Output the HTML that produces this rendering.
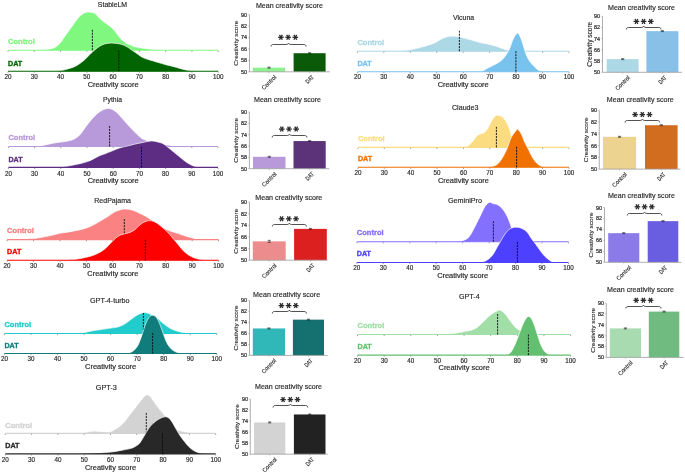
<!DOCTYPE html>
<html><head><meta charset="utf-8"><style>
html,body{margin:0;padding:0;background:#fff;}
svg{display:block;will-change:transform;}
text{font-family:"Liberation Sans", sans-serif;}
</style></head><body>
<svg width="685" height="475" viewBox="0 0 685 475">
<rect width="685" height="475" fill="#fff"/>
<text x="112.50" y="6.90" font-size="7.00" text-anchor="middle" font-weight="normal" fill="#262626" textLength="29.30" lengthAdjust="spacingAndGlyphs" stroke="#262626" stroke-width="0.15">StableLM</text>
<path d="M36.00,50.30 C36.00,50.30 34.50,50.40 36.00,50.30 C37.50,50.20 42.70,49.92 45.00,49.70 C47.30,49.48 48.18,49.37 49.80,49.00 C51.42,48.63 53.05,48.40 54.70,47.50 C56.35,46.60 58.05,45.40 59.70,43.60 C61.35,41.80 62.95,39.02 64.60,36.70 C66.25,34.38 67.95,32.02 69.60,29.70 C71.25,27.38 72.85,25.02 74.50,22.80 C76.15,20.58 77.85,18.05 79.50,16.40 C81.15,14.75 82.77,13.62 84.40,12.90 C86.03,12.18 87.53,11.98 89.30,12.10 C91.07,12.22 93.27,12.53 95.00,13.60 C96.73,14.67 98.12,17.05 99.70,18.50 C101.28,19.95 102.92,21.10 104.50,22.30 C106.08,23.50 107.78,24.58 109.20,25.70 C110.62,26.82 111.73,27.67 113.00,29.00 C114.27,30.33 115.53,32.12 116.80,33.70 C118.07,35.28 119.17,37.00 120.60,38.50 C122.03,40.00 123.82,41.65 125.40,42.70 C126.98,43.75 128.37,44.08 130.10,44.80 C131.83,45.52 133.87,46.47 135.80,47.00 C137.73,47.53 139.75,47.70 141.70,48.00 C143.65,48.30 145.55,48.52 147.50,48.80 C149.45,49.08 151.65,49.48 153.40,49.70 C155.15,49.92 156.07,50.00 158.00,50.10 C159.93,50.20 163.83,50.27 165.00,50.30 C166.17,50.33 165.00,50.30 165.00,50.30 Z" fill="#80f880"/>
<path d="M36.00,50.30 C36.00,50.30 34.50,50.40 36.00,50.30 C37.50,50.20 42.70,49.92 45.00,49.70 C47.30,49.48 48.18,49.37 49.80,49.00 C51.42,48.63 53.05,48.40 54.70,47.50 C56.35,46.60 58.05,45.40 59.70,43.60 C61.35,41.80 62.95,39.02 64.60,36.70 C66.25,34.38 67.95,32.02 69.60,29.70 C71.25,27.38 72.85,25.02 74.50,22.80 C76.15,20.58 77.85,18.05 79.50,16.40 C81.15,14.75 82.77,13.62 84.40,12.90 C86.03,12.18 87.53,11.98 89.30,12.10 C91.07,12.22 93.27,12.53 95.00,13.60 C96.73,14.67 98.12,17.05 99.70,18.50 C101.28,19.95 102.92,21.10 104.50,22.30 C106.08,23.50 107.78,24.58 109.20,25.70 C110.62,26.82 111.73,27.67 113.00,29.00 C114.27,30.33 115.53,32.12 116.80,33.70 C118.07,35.28 119.17,37.00 120.60,38.50 C122.03,40.00 123.82,41.65 125.40,42.70 C126.98,43.75 128.37,44.08 130.10,44.80 C131.83,45.52 133.87,46.47 135.80,47.00 C137.73,47.53 139.75,47.70 141.70,48.00 C143.65,48.30 145.55,48.52 147.50,48.80 C149.45,49.08 151.65,49.48 153.40,49.70 C155.15,49.92 156.07,50.00 158.00,50.10 C159.93,50.20 163.83,50.27 165.00,50.30 C166.17,50.33 165.00,50.30 165.00,50.30" fill="none" stroke="#fff" stroke-width="0.65"/>
<line x1="8.00" y1="50.30" x2="218.20" y2="50.30" stroke="#80f880" stroke-width="1.10"/>
<line x1="8.00" y1="50.70" x2="8.00" y2="51.90" stroke="#444" stroke-width="0.5"/>
<line x1="34.27" y1="50.70" x2="34.27" y2="51.90" stroke="#444" stroke-width="0.5"/>
<line x1="60.55" y1="50.70" x2="60.55" y2="51.90" stroke="#444" stroke-width="0.5"/>
<line x1="86.83" y1="50.70" x2="86.83" y2="51.90" stroke="#444" stroke-width="0.5"/>
<line x1="113.10" y1="50.70" x2="113.10" y2="51.90" stroke="#444" stroke-width="0.5"/>
<line x1="139.38" y1="50.70" x2="139.38" y2="51.90" stroke="#444" stroke-width="0.5"/>
<line x1="165.65" y1="50.70" x2="165.65" y2="51.90" stroke="#444" stroke-width="0.5"/>
<line x1="191.93" y1="50.70" x2="191.93" y2="51.90" stroke="#444" stroke-width="0.5"/>
<line x1="218.20" y1="50.70" x2="218.20" y2="51.90" stroke="#444" stroke-width="0.5"/>
<line x1="92.40" y1="50.30" x2="92.40" y2="29.80" stroke="#0a0a0a" stroke-width="0.9" stroke-dasharray="2.1,1.0"/>
<text x="8.00" y="44.20" font-size="6.90" text-anchor="start" font-weight="bold" fill="#80f880" textLength="26.80" lengthAdjust="spacingAndGlyphs" stroke="#80f880" stroke-width="0.30">Control</text>
<path d="M56.00,71.20 C56.00,71.20 55.00,71.32 56.00,71.20 C57.00,71.08 59.80,70.93 62.00,70.50 C64.20,70.07 66.78,69.40 69.20,68.60 C71.62,67.80 74.07,67.05 76.50,65.70 C78.93,64.35 81.37,62.58 83.80,60.50 C86.23,58.42 89.23,54.98 91.10,53.20 C92.97,51.42 93.57,50.97 95.00,49.80 C96.43,48.63 98.12,47.17 99.70,46.20 C101.28,45.23 102.92,44.50 104.50,44.00 C106.08,43.50 107.62,43.33 109.20,43.20 C110.78,43.07 112.42,43.12 114.00,43.20 C115.58,43.28 117.12,43.38 118.70,43.70 C120.28,44.02 121.92,44.47 123.50,45.10 C125.08,45.73 126.95,46.75 128.20,47.50 C129.45,48.25 129.73,48.72 131.00,49.60 C132.27,50.48 134.02,51.58 135.80,52.80 C137.58,54.02 139.75,55.82 141.70,56.90 C143.65,57.98 145.55,58.62 147.50,59.30 C149.45,59.98 151.45,60.42 153.40,61.00 C155.35,61.58 157.27,62.22 159.20,62.80 C161.13,63.38 163.05,63.98 165.00,64.50 C166.95,65.02 168.95,65.42 170.90,65.90 C172.85,66.38 174.75,66.85 176.70,67.40 C178.65,67.95 180.65,68.67 182.60,69.20 C184.55,69.73 186.47,70.27 188.40,70.60 C190.33,70.93 192.60,71.10 194.20,71.20 C195.80,71.30 197.37,71.20 198.00,71.20 C198.63,71.20 198.00,71.20 198.00,71.20 Z" fill="#006400"/>
<path d="M56.00,71.20 C56.00,71.20 55.00,71.32 56.00,71.20 C57.00,71.08 59.80,70.93 62.00,70.50 C64.20,70.07 66.78,69.40 69.20,68.60 C71.62,67.80 74.07,67.05 76.50,65.70 C78.93,64.35 81.37,62.58 83.80,60.50 C86.23,58.42 89.23,54.98 91.10,53.20 C92.97,51.42 93.57,50.97 95.00,49.80 C96.43,48.63 98.12,47.17 99.70,46.20 C101.28,45.23 102.92,44.50 104.50,44.00 C106.08,43.50 107.62,43.33 109.20,43.20 C110.78,43.07 112.42,43.12 114.00,43.20 C115.58,43.28 117.12,43.38 118.70,43.70 C120.28,44.02 121.92,44.47 123.50,45.10 C125.08,45.73 126.95,46.75 128.20,47.50 C129.45,48.25 129.73,48.72 131.00,49.60 C132.27,50.48 134.02,51.58 135.80,52.80 C137.58,54.02 139.75,55.82 141.70,56.90 C143.65,57.98 145.55,58.62 147.50,59.30 C149.45,59.98 151.45,60.42 153.40,61.00 C155.35,61.58 157.27,62.22 159.20,62.80 C161.13,63.38 163.05,63.98 165.00,64.50 C166.95,65.02 168.95,65.42 170.90,65.90 C172.85,66.38 174.75,66.85 176.70,67.40 C178.65,67.95 180.65,68.67 182.60,69.20 C184.55,69.73 186.47,70.27 188.40,70.60 C190.33,70.93 192.60,71.10 194.20,71.20 C195.80,71.30 197.37,71.20 198.00,71.20 C198.63,71.20 198.00,71.20 198.00,71.20" fill="none" stroke="#fff" stroke-width="0.65"/>
<line x1="8.00" y1="71.20" x2="218.20" y2="71.20" stroke="#006400" stroke-width="1.10"/>
<line x1="8.00" y1="71.60" x2="8.00" y2="72.80" stroke="#444" stroke-width="0.5"/>
<line x1="34.27" y1="71.60" x2="34.27" y2="72.80" stroke="#444" stroke-width="0.5"/>
<line x1="60.55" y1="71.60" x2="60.55" y2="72.80" stroke="#444" stroke-width="0.5"/>
<line x1="86.83" y1="71.60" x2="86.83" y2="72.80" stroke="#444" stroke-width="0.5"/>
<line x1="113.10" y1="71.60" x2="113.10" y2="72.80" stroke="#444" stroke-width="0.5"/>
<line x1="139.38" y1="71.60" x2="139.38" y2="72.80" stroke="#444" stroke-width="0.5"/>
<line x1="165.65" y1="71.60" x2="165.65" y2="72.80" stroke="#444" stroke-width="0.5"/>
<line x1="191.93" y1="71.60" x2="191.93" y2="72.80" stroke="#444" stroke-width="0.5"/>
<line x1="218.20" y1="71.60" x2="218.20" y2="72.80" stroke="#444" stroke-width="0.5"/>
<line x1="118.80" y1="71.20" x2="118.80" y2="50.70" stroke="#0a0a0a" stroke-width="0.9" stroke-dasharray="2.1,1.0"/>
<text x="8.00" y="65.60" font-size="6.90" text-anchor="start" font-weight="bold" fill="#006400" textLength="14.20" lengthAdjust="spacingAndGlyphs" stroke="#006400" stroke-width="0.30">DAT</text>
<text x="8.00" y="78.90" font-size="6.30" text-anchor="middle" font-weight="normal" fill="#262626" stroke="#262626" stroke-width="0.15">20</text>
<text x="34.27" y="78.90" font-size="6.30" text-anchor="middle" font-weight="normal" fill="#262626" stroke="#262626" stroke-width="0.15">30</text>
<text x="60.55" y="78.90" font-size="6.30" text-anchor="middle" font-weight="normal" fill="#262626" stroke="#262626" stroke-width="0.15">40</text>
<text x="86.83" y="78.90" font-size="6.30" text-anchor="middle" font-weight="normal" fill="#262626" stroke="#262626" stroke-width="0.15">50</text>
<text x="113.10" y="78.90" font-size="6.30" text-anchor="middle" font-weight="normal" fill="#262626" stroke="#262626" stroke-width="0.15">60</text>
<text x="139.38" y="78.90" font-size="6.30" text-anchor="middle" font-weight="normal" fill="#262626" stroke="#262626" stroke-width="0.15">70</text>
<text x="165.65" y="78.90" font-size="6.30" text-anchor="middle" font-weight="normal" fill="#262626" stroke="#262626" stroke-width="0.15">80</text>
<text x="191.93" y="78.90" font-size="6.30" text-anchor="middle" font-weight="normal" fill="#262626" stroke="#262626" stroke-width="0.15">90</text>
<text x="218.20" y="78.90" font-size="6.30" text-anchor="middle" font-weight="normal" fill="#262626" stroke="#262626" stroke-width="0.15">100</text>
<text x="113.10" y="86.90" font-size="6.60" text-anchor="middle" font-weight="normal" fill="#262626" textLength="50.80" lengthAdjust="spacingAndGlyphs" stroke="#262626" stroke-width="0.15">Creativity score</text>
<text x="112.50" y="102.00" font-size="7.00" text-anchor="middle" font-weight="normal" fill="#262626" textLength="18.90" lengthAdjust="spacingAndGlyphs" stroke="#262626" stroke-width="0.15">Pythia</text>
<path d="M34.00,146.50 C34.00,146.50 33.20,146.53 34.00,146.50 C34.80,146.47 36.97,146.55 38.80,146.30 C40.63,146.05 42.78,145.48 45.00,145.00 C47.22,144.52 49.77,143.85 52.10,143.40 C54.43,142.95 56.55,142.67 59.00,142.30 C61.45,141.93 64.80,141.53 66.80,141.20 C68.80,140.87 69.77,140.67 71.00,140.30 C72.23,139.93 73.12,139.55 74.20,139.00 C75.28,138.45 76.52,137.73 77.50,137.00 C78.48,136.27 79.18,135.63 80.10,134.60 C81.02,133.57 82.02,132.15 83.00,130.80 C83.98,129.45 85.00,127.87 86.00,126.50 C87.00,125.13 88.02,123.83 89.00,122.60 C89.98,121.37 90.93,120.20 91.90,119.10 C92.87,118.00 93.83,116.97 94.80,116.00 C95.77,115.03 96.73,114.10 97.70,113.30 C98.67,112.50 99.62,111.82 100.60,111.20 C101.58,110.58 102.62,110.02 103.60,109.60 C104.58,109.18 105.52,108.88 106.50,108.70 C107.48,108.52 108.42,108.32 109.50,108.50 C110.58,108.68 111.78,109.13 113.00,109.80 C114.22,110.47 115.55,111.40 116.80,112.50 C118.05,113.60 119.28,115.05 120.50,116.40 C121.72,117.75 122.88,119.22 124.10,120.60 C125.32,121.98 126.57,123.35 127.80,124.70 C129.03,126.05 130.27,127.38 131.50,128.70 C132.73,130.02 133.97,131.37 135.20,132.60 C136.43,133.83 137.77,135.12 138.90,136.10 C140.03,137.08 141.02,137.88 142.00,138.50 C142.98,139.12 143.80,139.33 144.80,139.80 C145.80,140.27 146.80,140.83 148.00,141.30 C149.20,141.77 150.50,142.23 152.00,142.60 C153.50,142.97 155.02,143.23 157.00,143.50 C158.98,143.77 161.52,143.83 163.90,144.20 C166.28,144.57 168.85,145.33 171.30,145.70 C173.75,146.07 176.48,146.27 178.60,146.40 C180.72,146.53 183.10,146.48 184.00,146.50 C184.90,146.52 184.00,146.50 184.00,146.50 Z" fill="#b89adb"/>
<path d="M34.00,146.50 C34.00,146.50 33.20,146.53 34.00,146.50 C34.80,146.47 36.97,146.55 38.80,146.30 C40.63,146.05 42.78,145.48 45.00,145.00 C47.22,144.52 49.77,143.85 52.10,143.40 C54.43,142.95 56.55,142.67 59.00,142.30 C61.45,141.93 64.80,141.53 66.80,141.20 C68.80,140.87 69.77,140.67 71.00,140.30 C72.23,139.93 73.12,139.55 74.20,139.00 C75.28,138.45 76.52,137.73 77.50,137.00 C78.48,136.27 79.18,135.63 80.10,134.60 C81.02,133.57 82.02,132.15 83.00,130.80 C83.98,129.45 85.00,127.87 86.00,126.50 C87.00,125.13 88.02,123.83 89.00,122.60 C89.98,121.37 90.93,120.20 91.90,119.10 C92.87,118.00 93.83,116.97 94.80,116.00 C95.77,115.03 96.73,114.10 97.70,113.30 C98.67,112.50 99.62,111.82 100.60,111.20 C101.58,110.58 102.62,110.02 103.60,109.60 C104.58,109.18 105.52,108.88 106.50,108.70 C107.48,108.52 108.42,108.32 109.50,108.50 C110.58,108.68 111.78,109.13 113.00,109.80 C114.22,110.47 115.55,111.40 116.80,112.50 C118.05,113.60 119.28,115.05 120.50,116.40 C121.72,117.75 122.88,119.22 124.10,120.60 C125.32,121.98 126.57,123.35 127.80,124.70 C129.03,126.05 130.27,127.38 131.50,128.70 C132.73,130.02 133.97,131.37 135.20,132.60 C136.43,133.83 137.77,135.12 138.90,136.10 C140.03,137.08 141.02,137.88 142.00,138.50 C142.98,139.12 143.80,139.33 144.80,139.80 C145.80,140.27 146.80,140.83 148.00,141.30 C149.20,141.77 150.50,142.23 152.00,142.60 C153.50,142.97 155.02,143.23 157.00,143.50 C158.98,143.77 161.52,143.83 163.90,144.20 C166.28,144.57 168.85,145.33 171.30,145.70 C173.75,146.07 176.48,146.27 178.60,146.40 C180.72,146.53 183.10,146.48 184.00,146.50 C184.90,146.52 184.00,146.50 184.00,146.50" fill="none" stroke="#fff" stroke-width="0.65"/>
<line x1="8.40" y1="146.50" x2="218.00" y2="146.50" stroke="#b89adb" stroke-width="1.10"/>
<line x1="8.40" y1="146.90" x2="8.40" y2="148.10" stroke="#444" stroke-width="0.5"/>
<line x1="34.60" y1="146.90" x2="34.60" y2="148.10" stroke="#444" stroke-width="0.5"/>
<line x1="60.80" y1="146.90" x2="60.80" y2="148.10" stroke="#444" stroke-width="0.5"/>
<line x1="87.00" y1="146.90" x2="87.00" y2="148.10" stroke="#444" stroke-width="0.5"/>
<line x1="113.20" y1="146.90" x2="113.20" y2="148.10" stroke="#444" stroke-width="0.5"/>
<line x1="139.40" y1="146.90" x2="139.40" y2="148.10" stroke="#444" stroke-width="0.5"/>
<line x1="165.60" y1="146.90" x2="165.60" y2="148.10" stroke="#444" stroke-width="0.5"/>
<line x1="191.80" y1="146.90" x2="191.80" y2="148.10" stroke="#444" stroke-width="0.5"/>
<line x1="218.00" y1="146.90" x2="218.00" y2="148.10" stroke="#444" stroke-width="0.5"/>
<line x1="109.60" y1="146.50" x2="109.60" y2="126.00" stroke="#0a0a0a" stroke-width="0.9" stroke-dasharray="2.1,1.0"/>
<text x="8.40" y="140.40" font-size="6.90" text-anchor="start" font-weight="bold" fill="#b89adb" textLength="26.80" lengthAdjust="spacingAndGlyphs" stroke="#b89adb" stroke-width="0.30">Control</text>
<path d="M55.00,167.40 C55.00,167.40 54.25,167.40 55.00,167.40 C55.75,167.40 57.72,167.55 59.50,167.40 C61.28,167.25 63.75,166.82 65.70,166.50 C67.65,166.18 69.48,165.83 71.20,165.50 C72.92,165.17 74.28,164.87 76.00,164.50 C77.72,164.13 79.35,163.87 81.50,163.30 C83.65,162.73 87.07,161.75 88.90,161.10 C90.73,160.45 91.27,160.02 92.50,159.40 C93.73,158.78 95.05,158.05 96.30,157.40 C97.55,156.75 98.55,156.10 100.00,155.50 C101.45,154.90 102.93,154.58 105.00,153.80 C107.07,153.02 109.95,151.78 112.40,150.80 C114.85,149.82 117.25,148.68 119.70,147.90 C122.15,147.12 124.63,146.72 127.10,146.10 C129.57,145.48 132.05,144.77 134.50,144.20 C136.95,143.63 139.60,143.15 141.80,142.70 C144.00,142.25 145.98,141.80 147.70,141.50 C149.42,141.20 150.38,140.82 152.10,140.90 C153.82,140.98 156.03,141.45 158.00,142.00 C159.97,142.55 161.68,142.85 163.90,144.20 C166.12,145.55 168.85,148.13 171.30,150.10 C173.75,152.07 176.15,154.03 178.60,156.00 C181.05,157.97 183.53,160.23 186.00,161.90 C188.47,163.57 191.18,165.08 193.40,166.00 C195.62,166.92 197.70,167.17 199.30,167.40 C200.90,167.63 202.38,167.40 203.00,167.40 C203.62,167.40 203.00,167.40 203.00,167.40 Z" fill="#5c2d82"/>
<path d="M55.00,167.40 C55.00,167.40 54.25,167.40 55.00,167.40 C55.75,167.40 57.72,167.55 59.50,167.40 C61.28,167.25 63.75,166.82 65.70,166.50 C67.65,166.18 69.48,165.83 71.20,165.50 C72.92,165.17 74.28,164.87 76.00,164.50 C77.72,164.13 79.35,163.87 81.50,163.30 C83.65,162.73 87.07,161.75 88.90,161.10 C90.73,160.45 91.27,160.02 92.50,159.40 C93.73,158.78 95.05,158.05 96.30,157.40 C97.55,156.75 98.55,156.10 100.00,155.50 C101.45,154.90 102.93,154.58 105.00,153.80 C107.07,153.02 109.95,151.78 112.40,150.80 C114.85,149.82 117.25,148.68 119.70,147.90 C122.15,147.12 124.63,146.72 127.10,146.10 C129.57,145.48 132.05,144.77 134.50,144.20 C136.95,143.63 139.60,143.15 141.80,142.70 C144.00,142.25 145.98,141.80 147.70,141.50 C149.42,141.20 150.38,140.82 152.10,140.90 C153.82,140.98 156.03,141.45 158.00,142.00 C159.97,142.55 161.68,142.85 163.90,144.20 C166.12,145.55 168.85,148.13 171.30,150.10 C173.75,152.07 176.15,154.03 178.60,156.00 C181.05,157.97 183.53,160.23 186.00,161.90 C188.47,163.57 191.18,165.08 193.40,166.00 C195.62,166.92 197.70,167.17 199.30,167.40 C200.90,167.63 202.38,167.40 203.00,167.40 C203.62,167.40 203.00,167.40 203.00,167.40" fill="none" stroke="#fff" stroke-width="0.65"/>
<line x1="8.40" y1="167.40" x2="218.00" y2="167.40" stroke="#5c2d82" stroke-width="1.10"/>
<line x1="8.40" y1="167.80" x2="8.40" y2="169.00" stroke="#444" stroke-width="0.5"/>
<line x1="34.60" y1="167.80" x2="34.60" y2="169.00" stroke="#444" stroke-width="0.5"/>
<line x1="60.80" y1="167.80" x2="60.80" y2="169.00" stroke="#444" stroke-width="0.5"/>
<line x1="87.00" y1="167.80" x2="87.00" y2="169.00" stroke="#444" stroke-width="0.5"/>
<line x1="113.20" y1="167.80" x2="113.20" y2="169.00" stroke="#444" stroke-width="0.5"/>
<line x1="139.40" y1="167.80" x2="139.40" y2="169.00" stroke="#444" stroke-width="0.5"/>
<line x1="165.60" y1="167.80" x2="165.60" y2="169.00" stroke="#444" stroke-width="0.5"/>
<line x1="191.80" y1="167.80" x2="191.80" y2="169.00" stroke="#444" stroke-width="0.5"/>
<line x1="218.00" y1="167.80" x2="218.00" y2="169.00" stroke="#444" stroke-width="0.5"/>
<line x1="141.50" y1="167.40" x2="141.50" y2="146.90" stroke="#0a0a0a" stroke-width="0.9" stroke-dasharray="2.1,1.0"/>
<text x="8.40" y="161.90" font-size="6.90" text-anchor="start" font-weight="bold" fill="#5c2d82" textLength="14.20" lengthAdjust="spacingAndGlyphs" stroke="#5c2d82" stroke-width="0.30">DAT</text>
<text x="8.40" y="175.50" font-size="6.30" text-anchor="middle" font-weight="normal" fill="#262626" stroke="#262626" stroke-width="0.15">20</text>
<text x="34.60" y="175.50" font-size="6.30" text-anchor="middle" font-weight="normal" fill="#262626" stroke="#262626" stroke-width="0.15">30</text>
<text x="60.80" y="175.50" font-size="6.30" text-anchor="middle" font-weight="normal" fill="#262626" stroke="#262626" stroke-width="0.15">40</text>
<text x="87.00" y="175.50" font-size="6.30" text-anchor="middle" font-weight="normal" fill="#262626" stroke="#262626" stroke-width="0.15">50</text>
<text x="113.20" y="175.50" font-size="6.30" text-anchor="middle" font-weight="normal" fill="#262626" stroke="#262626" stroke-width="0.15">60</text>
<text x="139.40" y="175.50" font-size="6.30" text-anchor="middle" font-weight="normal" fill="#262626" stroke="#262626" stroke-width="0.15">70</text>
<text x="165.60" y="175.50" font-size="6.30" text-anchor="middle" font-weight="normal" fill="#262626" stroke="#262626" stroke-width="0.15">80</text>
<text x="191.80" y="175.50" font-size="6.30" text-anchor="middle" font-weight="normal" fill="#262626" stroke="#262626" stroke-width="0.15">90</text>
<text x="218.00" y="175.50" font-size="6.30" text-anchor="middle" font-weight="normal" fill="#262626" stroke="#262626" stroke-width="0.15">100</text>
<text x="113.20" y="183.00" font-size="6.60" text-anchor="middle" font-weight="normal" fill="#262626" textLength="51.00" lengthAdjust="spacingAndGlyphs" stroke="#262626" stroke-width="0.15">Creativity score</text>
<text x="112.60" y="202.80" font-size="7.00" text-anchor="middle" font-weight="normal" fill="#262626" textLength="36.70" lengthAdjust="spacingAndGlyphs" stroke="#262626" stroke-width="0.15">RedPajama</text>
<path d="M7.10,239.60 C7.10,239.60 4.95,239.65 7.10,239.60 C9.25,239.55 15.57,239.47 20.00,239.30 C24.43,239.13 29.18,239.10 33.70,238.60 C38.22,238.10 43.72,236.93 47.10,236.30 C50.48,235.67 51.85,235.32 54.00,234.80 C56.15,234.28 58.00,233.60 60.00,233.20 C62.00,232.80 64.00,232.70 66.00,232.40 C68.00,232.10 70.00,231.77 72.00,231.40 C74.00,231.03 76.00,230.63 78.00,230.20 C80.00,229.77 82.00,229.40 84.00,228.80 C86.00,228.20 88.00,227.47 90.00,226.60 C92.00,225.73 94.00,224.70 96.00,223.60 C98.00,222.50 100.00,221.20 102.00,220.00 C104.00,218.80 106.00,217.68 108.00,216.40 C110.00,215.12 112.17,213.32 114.00,212.30 C115.83,211.28 117.20,210.87 119.00,210.30 C120.80,209.73 122.38,208.87 124.80,208.90 C127.22,208.93 130.97,209.75 133.50,210.50 C136.03,211.25 137.92,212.42 140.00,213.40 C142.08,214.38 144.00,215.23 146.00,216.40 C148.00,217.57 150.00,219.05 152.00,220.40 C154.00,221.75 156.00,223.18 158.00,224.50 C160.00,225.82 162.00,227.23 164.00,228.30 C166.00,229.37 168.30,230.25 170.00,230.90 C171.70,231.55 172.80,231.75 174.20,232.20 C175.60,232.65 177.00,233.12 178.40,233.60 C179.80,234.08 181.20,234.63 182.60,235.10 C184.00,235.57 185.38,235.98 186.80,236.40 C188.22,236.82 189.90,237.25 191.10,237.60 C192.30,237.95 192.85,238.22 194.00,238.50 C195.15,238.78 196.50,239.12 198.00,239.30 C199.50,239.48 201.50,239.55 203.00,239.60 C204.50,239.65 206.33,239.60 207.00,239.60 C207.67,239.60 207.00,239.60 207.00,239.60 Z" fill="#fb8282"/>
<path d="M7.10,239.60 C7.10,239.60 4.95,239.65 7.10,239.60 C9.25,239.55 15.57,239.47 20.00,239.30 C24.43,239.13 29.18,239.10 33.70,238.60 C38.22,238.10 43.72,236.93 47.10,236.30 C50.48,235.67 51.85,235.32 54.00,234.80 C56.15,234.28 58.00,233.60 60.00,233.20 C62.00,232.80 64.00,232.70 66.00,232.40 C68.00,232.10 70.00,231.77 72.00,231.40 C74.00,231.03 76.00,230.63 78.00,230.20 C80.00,229.77 82.00,229.40 84.00,228.80 C86.00,228.20 88.00,227.47 90.00,226.60 C92.00,225.73 94.00,224.70 96.00,223.60 C98.00,222.50 100.00,221.20 102.00,220.00 C104.00,218.80 106.00,217.68 108.00,216.40 C110.00,215.12 112.17,213.32 114.00,212.30 C115.83,211.28 117.20,210.87 119.00,210.30 C120.80,209.73 122.38,208.87 124.80,208.90 C127.22,208.93 130.97,209.75 133.50,210.50 C136.03,211.25 137.92,212.42 140.00,213.40 C142.08,214.38 144.00,215.23 146.00,216.40 C148.00,217.57 150.00,219.05 152.00,220.40 C154.00,221.75 156.00,223.18 158.00,224.50 C160.00,225.82 162.00,227.23 164.00,228.30 C166.00,229.37 168.30,230.25 170.00,230.90 C171.70,231.55 172.80,231.75 174.20,232.20 C175.60,232.65 177.00,233.12 178.40,233.60 C179.80,234.08 181.20,234.63 182.60,235.10 C184.00,235.57 185.38,235.98 186.80,236.40 C188.22,236.82 189.90,237.25 191.10,237.60 C192.30,237.95 192.85,238.22 194.00,238.50 C195.15,238.78 196.50,239.12 198.00,239.30 C199.50,239.48 201.50,239.55 203.00,239.60 C204.50,239.65 206.33,239.60 207.00,239.60 C207.67,239.60 207.00,239.60 207.00,239.60" fill="none" stroke="#fff" stroke-width="0.65"/>
<line x1="7.10" y1="239.60" x2="218.60" y2="239.60" stroke="#fb8282" stroke-width="1.10"/>
<line x1="7.10" y1="240.00" x2="7.10" y2="241.20" stroke="#444" stroke-width="0.5"/>
<line x1="33.54" y1="240.00" x2="33.54" y2="241.20" stroke="#444" stroke-width="0.5"/>
<line x1="59.98" y1="240.00" x2="59.98" y2="241.20" stroke="#444" stroke-width="0.5"/>
<line x1="86.41" y1="240.00" x2="86.41" y2="241.20" stroke="#444" stroke-width="0.5"/>
<line x1="112.85" y1="240.00" x2="112.85" y2="241.20" stroke="#444" stroke-width="0.5"/>
<line x1="139.29" y1="240.00" x2="139.29" y2="241.20" stroke="#444" stroke-width="0.5"/>
<line x1="165.72" y1="240.00" x2="165.72" y2="241.20" stroke="#444" stroke-width="0.5"/>
<line x1="192.16" y1="240.00" x2="192.16" y2="241.20" stroke="#444" stroke-width="0.5"/>
<line x1="218.60" y1="240.00" x2="218.60" y2="241.20" stroke="#444" stroke-width="0.5"/>
<line x1="124.30" y1="239.60" x2="124.30" y2="219.10" stroke="#0a0a0a" stroke-width="0.9" stroke-dasharray="2.1,1.0"/>
<text x="7.10" y="233.30" font-size="6.90" text-anchor="start" font-weight="bold" fill="#fb8282" textLength="26.80" lengthAdjust="spacingAndGlyphs" stroke="#fb8282" stroke-width="0.30">Control</text>
<path d="M62.00,260.30 C62.00,260.30 61.33,260.33 62.00,260.30 C62.67,260.27 64.33,260.18 66.00,260.10 C67.67,260.02 70.00,259.98 72.00,259.80 C74.00,259.62 76.00,259.33 78.00,259.00 C80.00,258.67 81.80,258.30 84.00,257.80 C86.20,257.30 89.20,256.60 91.20,256.00 C93.20,255.40 94.40,254.90 96.00,254.20 C97.60,253.50 99.20,252.80 100.80,251.80 C102.40,250.80 104.00,249.60 105.60,248.20 C107.20,246.80 108.80,245.00 110.40,243.40 C112.00,241.80 113.77,239.87 115.20,238.60 C116.63,237.33 117.70,236.53 119.00,235.80 C120.30,235.07 121.17,234.77 123.00,234.20 C124.83,233.63 128.00,233.18 130.00,232.40 C132.00,231.62 133.33,230.77 135.00,229.50 C136.67,228.23 138.37,226.08 140.00,224.80 C141.63,223.52 143.20,222.50 144.80,221.80 C146.40,221.10 148.00,220.60 149.60,220.60 C151.20,220.60 152.80,221.10 154.40,221.80 C156.00,222.50 157.52,223.55 159.20,224.80 C160.88,226.05 162.78,227.73 164.50,229.30 C166.22,230.87 168.08,232.67 169.50,234.20 C170.92,235.73 172.02,237.33 173.00,238.50 C173.98,239.67 174.30,239.88 175.40,241.20 C176.50,242.52 178.10,244.63 179.60,246.40 C181.10,248.17 182.80,250.30 184.40,251.80 C186.00,253.30 187.60,254.40 189.20,255.40 C190.80,256.40 192.40,257.15 194.00,257.80 C195.60,258.45 197.30,258.92 198.80,259.30 C200.30,259.68 201.63,259.93 203.00,260.10 C204.37,260.27 206.33,260.27 207.00,260.30 C207.67,260.33 207.00,260.30 207.00,260.30 Z" fill="#ff0000"/>
<path d="M62.00,260.30 C62.00,260.30 61.33,260.33 62.00,260.30 C62.67,260.27 64.33,260.18 66.00,260.10 C67.67,260.02 70.00,259.98 72.00,259.80 C74.00,259.62 76.00,259.33 78.00,259.00 C80.00,258.67 81.80,258.30 84.00,257.80 C86.20,257.30 89.20,256.60 91.20,256.00 C93.20,255.40 94.40,254.90 96.00,254.20 C97.60,253.50 99.20,252.80 100.80,251.80 C102.40,250.80 104.00,249.60 105.60,248.20 C107.20,246.80 108.80,245.00 110.40,243.40 C112.00,241.80 113.77,239.87 115.20,238.60 C116.63,237.33 117.70,236.53 119.00,235.80 C120.30,235.07 121.17,234.77 123.00,234.20 C124.83,233.63 128.00,233.18 130.00,232.40 C132.00,231.62 133.33,230.77 135.00,229.50 C136.67,228.23 138.37,226.08 140.00,224.80 C141.63,223.52 143.20,222.50 144.80,221.80 C146.40,221.10 148.00,220.60 149.60,220.60 C151.20,220.60 152.80,221.10 154.40,221.80 C156.00,222.50 157.52,223.55 159.20,224.80 C160.88,226.05 162.78,227.73 164.50,229.30 C166.22,230.87 168.08,232.67 169.50,234.20 C170.92,235.73 172.02,237.33 173.00,238.50 C173.98,239.67 174.30,239.88 175.40,241.20 C176.50,242.52 178.10,244.63 179.60,246.40 C181.10,248.17 182.80,250.30 184.40,251.80 C186.00,253.30 187.60,254.40 189.20,255.40 C190.80,256.40 192.40,257.15 194.00,257.80 C195.60,258.45 197.30,258.92 198.80,259.30 C200.30,259.68 201.63,259.93 203.00,260.10 C204.37,260.27 206.33,260.27 207.00,260.30 C207.67,260.33 207.00,260.30 207.00,260.30" fill="none" stroke="#fff" stroke-width="0.65"/>
<line x1="7.10" y1="260.30" x2="218.60" y2="260.30" stroke="#ff0000" stroke-width="1.10"/>
<line x1="7.10" y1="260.70" x2="7.10" y2="261.90" stroke="#444" stroke-width="0.5"/>
<line x1="33.54" y1="260.70" x2="33.54" y2="261.90" stroke="#444" stroke-width="0.5"/>
<line x1="59.98" y1="260.70" x2="59.98" y2="261.90" stroke="#444" stroke-width="0.5"/>
<line x1="86.41" y1="260.70" x2="86.41" y2="261.90" stroke="#444" stroke-width="0.5"/>
<line x1="112.85" y1="260.70" x2="112.85" y2="261.90" stroke="#444" stroke-width="0.5"/>
<line x1="139.29" y1="260.70" x2="139.29" y2="261.90" stroke="#444" stroke-width="0.5"/>
<line x1="165.72" y1="260.70" x2="165.72" y2="261.90" stroke="#444" stroke-width="0.5"/>
<line x1="192.16" y1="260.70" x2="192.16" y2="261.90" stroke="#444" stroke-width="0.5"/>
<line x1="218.60" y1="260.70" x2="218.60" y2="261.90" stroke="#444" stroke-width="0.5"/>
<line x1="145.30" y1="260.30" x2="145.30" y2="239.80" stroke="#0a0a0a" stroke-width="0.9" stroke-dasharray="2.1,1.0"/>
<text x="7.10" y="254.10" font-size="6.90" text-anchor="start" font-weight="bold" fill="#ff0000" textLength="14.20" lengthAdjust="spacingAndGlyphs" stroke="#ff0000" stroke-width="0.30">DAT</text>
<text x="7.10" y="267.90" font-size="6.30" text-anchor="middle" font-weight="normal" fill="#262626" stroke="#262626" stroke-width="0.15">20</text>
<text x="33.54" y="267.90" font-size="6.30" text-anchor="middle" font-weight="normal" fill="#262626" stroke="#262626" stroke-width="0.15">30</text>
<text x="59.98" y="267.90" font-size="6.30" text-anchor="middle" font-weight="normal" fill="#262626" stroke="#262626" stroke-width="0.15">40</text>
<text x="86.41" y="267.90" font-size="6.30" text-anchor="middle" font-weight="normal" fill="#262626" stroke="#262626" stroke-width="0.15">50</text>
<text x="112.85" y="267.90" font-size="6.30" text-anchor="middle" font-weight="normal" fill="#262626" stroke="#262626" stroke-width="0.15">60</text>
<text x="139.29" y="267.90" font-size="6.30" text-anchor="middle" font-weight="normal" fill="#262626" stroke="#262626" stroke-width="0.15">70</text>
<text x="165.72" y="267.90" font-size="6.30" text-anchor="middle" font-weight="normal" fill="#262626" stroke="#262626" stroke-width="0.15">80</text>
<text x="192.16" y="267.90" font-size="6.30" text-anchor="middle" font-weight="normal" fill="#262626" stroke="#262626" stroke-width="0.15">90</text>
<text x="218.60" y="267.90" font-size="6.30" text-anchor="middle" font-weight="normal" fill="#262626" stroke="#262626" stroke-width="0.15">100</text>
<text x="112.85" y="276.30" font-size="6.60" text-anchor="middle" font-weight="normal" fill="#262626" textLength="51.00" lengthAdjust="spacingAndGlyphs" stroke="#262626" stroke-width="0.15">Creativity score</text>
<text x="109.80" y="303.00" font-size="7.00" text-anchor="middle" font-weight="normal" fill="#262626" textLength="39.60" lengthAdjust="spacingAndGlyphs" stroke="#262626" stroke-width="0.15">GPT-4-turbo</text>
<path d="M78.00,333.50 C78.00,333.50 77.28,333.55 78.00,333.50 C78.72,333.45 80.23,333.58 82.30,333.20 C84.37,332.82 87.33,331.80 90.40,331.20 C93.47,330.60 97.28,330.12 100.70,329.60 C104.12,329.08 108.35,328.48 110.90,328.10 C113.45,327.72 114.57,327.58 116.00,327.30 C117.43,327.02 118.13,326.90 119.50,326.40 C120.87,325.90 122.57,325.23 124.20,324.30 C125.83,323.37 127.63,322.00 129.30,320.80 C130.97,319.60 132.63,318.18 134.20,317.10 C135.77,316.02 137.17,315.03 138.70,314.30 C140.23,313.57 142.03,312.93 143.40,312.70 C144.77,312.47 145.73,312.63 146.90,312.90 C148.07,313.17 149.10,313.70 150.40,314.30 C151.70,314.90 153.35,315.72 154.70,316.50 C156.05,317.28 157.28,318.00 158.50,319.00 C159.72,320.00 160.63,321.33 162.00,322.50 C163.37,323.67 165.13,324.92 166.70,326.00 C168.27,327.08 169.83,328.22 171.40,329.00 C172.97,329.78 174.55,330.18 176.10,330.70 C177.65,331.22 179.15,331.72 180.70,332.10 C182.25,332.48 183.85,332.78 185.40,333.00 C186.95,333.22 188.40,333.30 190.00,333.40 C191.60,333.50 194.17,333.58 195.00,333.60 C195.83,333.62 195.00,333.52 195.00,333.50 Z" fill="#22cccc"/>
<path d="M78.00,333.50 C78.00,333.50 77.28,333.55 78.00,333.50 C78.72,333.45 80.23,333.58 82.30,333.20 C84.37,332.82 87.33,331.80 90.40,331.20 C93.47,330.60 97.28,330.12 100.70,329.60 C104.12,329.08 108.35,328.48 110.90,328.10 C113.45,327.72 114.57,327.58 116.00,327.30 C117.43,327.02 118.13,326.90 119.50,326.40 C120.87,325.90 122.57,325.23 124.20,324.30 C125.83,323.37 127.63,322.00 129.30,320.80 C130.97,319.60 132.63,318.18 134.20,317.10 C135.77,316.02 137.17,315.03 138.70,314.30 C140.23,313.57 142.03,312.93 143.40,312.70 C144.77,312.47 145.73,312.63 146.90,312.90 C148.07,313.17 149.10,313.70 150.40,314.30 C151.70,314.90 153.35,315.72 154.70,316.50 C156.05,317.28 157.28,318.00 158.50,319.00 C159.72,320.00 160.63,321.33 162.00,322.50 C163.37,323.67 165.13,324.92 166.70,326.00 C168.27,327.08 169.83,328.22 171.40,329.00 C172.97,329.78 174.55,330.18 176.10,330.70 C177.65,331.22 179.15,331.72 180.70,332.10 C182.25,332.48 183.85,332.78 185.40,333.00 C186.95,333.22 188.40,333.30 190.00,333.40 C191.60,333.50 194.17,333.58 195.00,333.60 C195.83,333.62 195.00,333.52 195.00,333.50" fill="none" stroke="#fff" stroke-width="0.65"/>
<line x1="4.40" y1="333.50" x2="216.80" y2="333.50" stroke="#22cccc" stroke-width="1.10"/>
<line x1="4.40" y1="333.90" x2="4.40" y2="335.10" stroke="#444" stroke-width="0.5"/>
<line x1="30.95" y1="333.90" x2="30.95" y2="335.10" stroke="#444" stroke-width="0.5"/>
<line x1="57.50" y1="333.90" x2="57.50" y2="335.10" stroke="#444" stroke-width="0.5"/>
<line x1="84.05" y1="333.90" x2="84.05" y2="335.10" stroke="#444" stroke-width="0.5"/>
<line x1="110.60" y1="333.90" x2="110.60" y2="335.10" stroke="#444" stroke-width="0.5"/>
<line x1="137.15" y1="333.90" x2="137.15" y2="335.10" stroke="#444" stroke-width="0.5"/>
<line x1="163.70" y1="333.90" x2="163.70" y2="335.10" stroke="#444" stroke-width="0.5"/>
<line x1="190.25" y1="333.90" x2="190.25" y2="335.10" stroke="#444" stroke-width="0.5"/>
<line x1="216.80" y1="333.90" x2="216.80" y2="335.10" stroke="#444" stroke-width="0.5"/>
<line x1="143.40" y1="333.50" x2="143.40" y2="313.00" stroke="#0a0a0a" stroke-width="0.9" stroke-dasharray="2.1,1.0"/>
<text x="4.40" y="327.20" font-size="6.90" text-anchor="start" font-weight="bold" fill="#22cccc" textLength="26.80" lengthAdjust="spacingAndGlyphs" stroke="#22cccc" stroke-width="0.30">Control</text>
<path d="M126.00,353.50 C126.00,353.50 125.63,353.53 126.00,353.50 C126.37,353.47 127.07,353.68 128.20,353.30 C129.33,352.92 131.43,352.13 132.80,351.20 C134.17,350.27 135.32,349.17 136.40,347.70 C137.48,346.23 138.33,344.65 139.30,342.40 C140.27,340.15 141.23,337.03 142.20,334.20 C143.17,331.37 144.13,327.93 145.10,325.40 C146.07,322.87 147.12,320.55 148.00,319.00 C148.88,317.45 149.62,316.72 150.40,316.10 C151.18,315.48 151.93,315.30 152.70,315.30 C153.47,315.30 154.22,315.48 155.00,316.10 C155.78,316.72 156.52,317.45 157.40,319.00 C158.28,320.55 159.33,322.97 160.30,325.40 C161.27,327.83 162.23,330.97 163.20,333.60 C164.17,336.23 165.12,339.05 166.10,341.20 C167.08,343.35 168.02,345.03 169.10,346.50 C170.18,347.97 171.43,349.07 172.60,350.00 C173.77,350.93 174.93,351.55 176.10,352.10 C177.27,352.65 178.62,353.07 179.60,353.30 C180.58,353.53 181.60,353.47 182.00,353.50 C182.40,353.53 182.00,353.50 182.00,353.50 Z" fill="#117c7c"/>
<path d="M126.00,353.50 C126.00,353.50 125.63,353.53 126.00,353.50 C126.37,353.47 127.07,353.68 128.20,353.30 C129.33,352.92 131.43,352.13 132.80,351.20 C134.17,350.27 135.32,349.17 136.40,347.70 C137.48,346.23 138.33,344.65 139.30,342.40 C140.27,340.15 141.23,337.03 142.20,334.20 C143.17,331.37 144.13,327.93 145.10,325.40 C146.07,322.87 147.12,320.55 148.00,319.00 C148.88,317.45 149.62,316.72 150.40,316.10 C151.18,315.48 151.93,315.30 152.70,315.30 C153.47,315.30 154.22,315.48 155.00,316.10 C155.78,316.72 156.52,317.45 157.40,319.00 C158.28,320.55 159.33,322.97 160.30,325.40 C161.27,327.83 162.23,330.97 163.20,333.60 C164.17,336.23 165.12,339.05 166.10,341.20 C167.08,343.35 168.02,345.03 169.10,346.50 C170.18,347.97 171.43,349.07 172.60,350.00 C173.77,350.93 174.93,351.55 176.10,352.10 C177.27,352.65 178.62,353.07 179.60,353.30 C180.58,353.53 181.60,353.47 182.00,353.50 C182.40,353.53 182.00,353.50 182.00,353.50" fill="none" stroke="#fff" stroke-width="0.65"/>
<line x1="4.40" y1="353.50" x2="216.80" y2="353.50" stroke="#117c7c" stroke-width="1.10"/>
<line x1="4.40" y1="353.90" x2="4.40" y2="355.10" stroke="#444" stroke-width="0.5"/>
<line x1="30.95" y1="353.90" x2="30.95" y2="355.10" stroke="#444" stroke-width="0.5"/>
<line x1="57.50" y1="353.90" x2="57.50" y2="355.10" stroke="#444" stroke-width="0.5"/>
<line x1="84.05" y1="353.90" x2="84.05" y2="355.10" stroke="#444" stroke-width="0.5"/>
<line x1="110.60" y1="353.90" x2="110.60" y2="355.10" stroke="#444" stroke-width="0.5"/>
<line x1="137.15" y1="353.90" x2="137.15" y2="355.10" stroke="#444" stroke-width="0.5"/>
<line x1="163.70" y1="353.90" x2="163.70" y2="355.10" stroke="#444" stroke-width="0.5"/>
<line x1="190.25" y1="353.90" x2="190.25" y2="355.10" stroke="#444" stroke-width="0.5"/>
<line x1="216.80" y1="353.90" x2="216.80" y2="355.10" stroke="#444" stroke-width="0.5"/>
<line x1="152.60" y1="353.50" x2="152.60" y2="333.00" stroke="#0a0a0a" stroke-width="0.9" stroke-dasharray="2.1,1.0"/>
<text x="4.40" y="347.60" font-size="6.90" text-anchor="start" font-weight="bold" fill="#117c7c" textLength="14.20" lengthAdjust="spacingAndGlyphs" stroke="#117c7c" stroke-width="0.30">DAT</text>
<text x="4.40" y="360.90" font-size="6.30" text-anchor="middle" font-weight="normal" fill="#262626" stroke="#262626" stroke-width="0.15">20</text>
<text x="30.95" y="360.90" font-size="6.30" text-anchor="middle" font-weight="normal" fill="#262626" stroke="#262626" stroke-width="0.15">30</text>
<text x="57.50" y="360.90" font-size="6.30" text-anchor="middle" font-weight="normal" fill="#262626" stroke="#262626" stroke-width="0.15">40</text>
<text x="84.05" y="360.90" font-size="6.30" text-anchor="middle" font-weight="normal" fill="#262626" stroke="#262626" stroke-width="0.15">50</text>
<text x="110.60" y="360.90" font-size="6.30" text-anchor="middle" font-weight="normal" fill="#262626" stroke="#262626" stroke-width="0.15">60</text>
<text x="137.15" y="360.90" font-size="6.30" text-anchor="middle" font-weight="normal" fill="#262626" stroke="#262626" stroke-width="0.15">70</text>
<text x="163.70" y="360.90" font-size="6.30" text-anchor="middle" font-weight="normal" fill="#262626" stroke="#262626" stroke-width="0.15">80</text>
<text x="190.25" y="360.90" font-size="6.30" text-anchor="middle" font-weight="normal" fill="#262626" stroke="#262626" stroke-width="0.15">90</text>
<text x="216.80" y="360.90" font-size="6.30" text-anchor="middle" font-weight="normal" fill="#262626" stroke="#262626" stroke-width="0.15">100</text>
<text x="110.60" y="368.50" font-size="6.60" text-anchor="middle" font-weight="normal" fill="#262626" textLength="51.00" lengthAdjust="spacingAndGlyphs" stroke="#262626" stroke-width="0.15">Creativity score</text>
<text x="106.30" y="390.40" font-size="7.00" text-anchor="middle" font-weight="normal" fill="#262626" textLength="21.00" lengthAdjust="spacingAndGlyphs" stroke="#262626" stroke-width="0.15">GPT-3</text>
<path d="M80.00,433.40 C80.00,433.40 79.33,433.47 80.00,433.40 C80.67,433.33 82.50,433.27 84.00,433.00 C85.50,432.73 87.33,432.12 89.00,431.80 C90.67,431.48 92.17,431.15 94.00,431.10 C95.83,431.05 98.00,431.35 100.00,431.50 C102.00,431.65 104.33,431.92 106.00,432.00 C107.67,432.08 108.83,432.25 110.00,432.00 C111.17,431.75 112.17,430.95 113.00,430.50 C113.83,430.05 113.88,429.97 115.00,429.30 C116.12,428.63 118.12,427.75 119.70,426.50 C121.28,425.25 122.92,423.62 124.50,421.80 C126.08,419.98 127.62,417.67 129.20,415.60 C130.78,413.53 132.42,411.45 134.00,409.40 C135.58,407.35 137.28,405.12 138.70,403.30 C140.12,401.48 141.40,399.80 142.50,398.50 C143.60,397.20 144.43,396.10 145.30,395.50 C146.17,394.90 146.90,394.78 147.70,394.90 C148.50,395.02 149.23,395.35 150.10,396.20 C150.97,397.05 151.80,398.43 152.90,400.00 C154.00,401.57 155.43,403.87 156.70,405.60 C157.97,407.33 159.23,408.82 160.50,410.40 C161.77,411.98 162.95,413.25 164.30,415.10 C165.65,416.95 166.93,419.37 168.60,421.50 C170.27,423.63 172.38,426.35 174.30,427.90 C176.22,429.45 177.95,430.08 180.10,430.80 C182.25,431.52 184.82,431.85 187.20,432.20 C189.58,432.55 192.27,432.72 194.40,432.90 C196.53,433.08 199.07,433.22 200.00,433.30 C200.93,433.38 200.00,433.38 200.00,433.40 Z" fill="#d3d3d3"/>
<path d="M80.00,433.40 C80.00,433.40 79.33,433.47 80.00,433.40 C80.67,433.33 82.50,433.27 84.00,433.00 C85.50,432.73 87.33,432.12 89.00,431.80 C90.67,431.48 92.17,431.15 94.00,431.10 C95.83,431.05 98.00,431.35 100.00,431.50 C102.00,431.65 104.33,431.92 106.00,432.00 C107.67,432.08 108.83,432.25 110.00,432.00 C111.17,431.75 112.17,430.95 113.00,430.50 C113.83,430.05 113.88,429.97 115.00,429.30 C116.12,428.63 118.12,427.75 119.70,426.50 C121.28,425.25 122.92,423.62 124.50,421.80 C126.08,419.98 127.62,417.67 129.20,415.60 C130.78,413.53 132.42,411.45 134.00,409.40 C135.58,407.35 137.28,405.12 138.70,403.30 C140.12,401.48 141.40,399.80 142.50,398.50 C143.60,397.20 144.43,396.10 145.30,395.50 C146.17,394.90 146.90,394.78 147.70,394.90 C148.50,395.02 149.23,395.35 150.10,396.20 C150.97,397.05 151.80,398.43 152.90,400.00 C154.00,401.57 155.43,403.87 156.70,405.60 C157.97,407.33 159.23,408.82 160.50,410.40 C161.77,411.98 162.95,413.25 164.30,415.10 C165.65,416.95 166.93,419.37 168.60,421.50 C170.27,423.63 172.38,426.35 174.30,427.90 C176.22,429.45 177.95,430.08 180.10,430.80 C182.25,431.52 184.82,431.85 187.20,432.20 C189.58,432.55 192.27,432.72 194.40,432.90 C196.53,433.08 199.07,433.22 200.00,433.30 C200.93,433.38 200.00,433.38 200.00,433.40" fill="none" stroke="#fff" stroke-width="0.65"/>
<line x1="5.30" y1="433.40" x2="215.70" y2="433.40" stroke="#d3d3d3" stroke-width="1.10"/>
<line x1="5.30" y1="433.80" x2="5.30" y2="435.00" stroke="#444" stroke-width="0.5"/>
<line x1="31.60" y1="433.80" x2="31.60" y2="435.00" stroke="#444" stroke-width="0.5"/>
<line x1="57.90" y1="433.80" x2="57.90" y2="435.00" stroke="#444" stroke-width="0.5"/>
<line x1="84.20" y1="433.80" x2="84.20" y2="435.00" stroke="#444" stroke-width="0.5"/>
<line x1="110.50" y1="433.80" x2="110.50" y2="435.00" stroke="#444" stroke-width="0.5"/>
<line x1="136.80" y1="433.80" x2="136.80" y2="435.00" stroke="#444" stroke-width="0.5"/>
<line x1="163.10" y1="433.80" x2="163.10" y2="435.00" stroke="#444" stroke-width="0.5"/>
<line x1="189.40" y1="433.80" x2="189.40" y2="435.00" stroke="#444" stroke-width="0.5"/>
<line x1="215.70" y1="433.80" x2="215.70" y2="435.00" stroke="#444" stroke-width="0.5"/>
<line x1="146.30" y1="433.40" x2="146.30" y2="412.90" stroke="#0a0a0a" stroke-width="0.9" stroke-dasharray="2.1,1.0"/>
<text x="5.30" y="427.50" font-size="6.90" text-anchor="start" font-weight="bold" fill="#d3d3d3" textLength="26.80" lengthAdjust="spacingAndGlyphs" stroke="#d3d3d3" stroke-width="0.30">Control</text>
<path d="M82.00,453.90 C82.00,453.90 80.67,454.00 82.00,453.90 C83.33,453.80 86.88,453.47 90.00,453.30 C93.12,453.13 97.22,453.10 100.70,452.90 C104.18,452.70 107.50,452.52 110.90,452.10 C114.30,451.68 117.70,451.03 121.10,450.40 C124.50,449.77 128.75,449.07 131.30,448.30 C133.85,447.53 134.95,446.73 136.40,445.80 C137.85,444.87 138.68,444.37 140.00,442.70 C141.32,441.03 142.87,438.15 144.30,435.80 C145.73,433.45 147.17,430.63 148.60,428.60 C150.03,426.57 151.23,425.15 152.90,423.60 C154.57,422.05 156.70,420.42 158.60,419.30 C160.50,418.18 162.63,417.13 164.30,416.90 C165.97,416.67 167.28,417.02 168.60,417.90 C169.92,418.78 171.00,420.42 172.20,422.20 C173.40,423.98 174.48,426.33 175.80,428.60 C177.12,430.87 178.67,433.65 180.10,435.80 C181.53,437.95 182.97,439.72 184.40,441.50 C185.83,443.28 187.28,445.07 188.70,446.50 C190.12,447.93 191.48,449.15 192.90,450.10 C194.32,451.05 195.77,451.65 197.20,452.20 C198.63,452.75 200.03,453.12 201.50,453.40 C202.97,453.68 205.25,453.82 206.00,453.90 C206.75,453.98 206.00,453.90 206.00,453.90 Z" fill="#282828"/>
<path d="M82.00,453.90 C82.00,453.90 80.67,454.00 82.00,453.90 C83.33,453.80 86.88,453.47 90.00,453.30 C93.12,453.13 97.22,453.10 100.70,452.90 C104.18,452.70 107.50,452.52 110.90,452.10 C114.30,451.68 117.70,451.03 121.10,450.40 C124.50,449.77 128.75,449.07 131.30,448.30 C133.85,447.53 134.95,446.73 136.40,445.80 C137.85,444.87 138.68,444.37 140.00,442.70 C141.32,441.03 142.87,438.15 144.30,435.80 C145.73,433.45 147.17,430.63 148.60,428.60 C150.03,426.57 151.23,425.15 152.90,423.60 C154.57,422.05 156.70,420.42 158.60,419.30 C160.50,418.18 162.63,417.13 164.30,416.90 C165.97,416.67 167.28,417.02 168.60,417.90 C169.92,418.78 171.00,420.42 172.20,422.20 C173.40,423.98 174.48,426.33 175.80,428.60 C177.12,430.87 178.67,433.65 180.10,435.80 C181.53,437.95 182.97,439.72 184.40,441.50 C185.83,443.28 187.28,445.07 188.70,446.50 C190.12,447.93 191.48,449.15 192.90,450.10 C194.32,451.05 195.77,451.65 197.20,452.20 C198.63,452.75 200.03,453.12 201.50,453.40 C202.97,453.68 205.25,453.82 206.00,453.90 C206.75,453.98 206.00,453.90 206.00,453.90" fill="none" stroke="#fff" stroke-width="0.65"/>
<line x1="5.30" y1="453.90" x2="215.70" y2="453.90" stroke="#282828" stroke-width="1.10"/>
<line x1="5.30" y1="454.30" x2="5.30" y2="455.50" stroke="#444" stroke-width="0.5"/>
<line x1="31.60" y1="454.30" x2="31.60" y2="455.50" stroke="#444" stroke-width="0.5"/>
<line x1="57.90" y1="454.30" x2="57.90" y2="455.50" stroke="#444" stroke-width="0.5"/>
<line x1="84.20" y1="454.30" x2="84.20" y2="455.50" stroke="#444" stroke-width="0.5"/>
<line x1="110.50" y1="454.30" x2="110.50" y2="455.50" stroke="#444" stroke-width="0.5"/>
<line x1="136.80" y1="454.30" x2="136.80" y2="455.50" stroke="#444" stroke-width="0.5"/>
<line x1="163.10" y1="454.30" x2="163.10" y2="455.50" stroke="#444" stroke-width="0.5"/>
<line x1="189.40" y1="454.30" x2="189.40" y2="455.50" stroke="#444" stroke-width="0.5"/>
<line x1="215.70" y1="454.30" x2="215.70" y2="455.50" stroke="#444" stroke-width="0.5"/>
<line x1="162.50" y1="453.90" x2="162.50" y2="433.40" stroke="#0a0a0a" stroke-width="0.9" stroke-dasharray="2.1,1.0"/>
<text x="5.30" y="448.20" font-size="6.90" text-anchor="start" font-weight="bold" fill="#282828" textLength="14.20" lengthAdjust="spacingAndGlyphs" stroke="#282828" stroke-width="0.30">DAT</text>
<text x="5.30" y="462.00" font-size="6.30" text-anchor="middle" font-weight="normal" fill="#262626" stroke="#262626" stroke-width="0.15">20</text>
<text x="31.60" y="462.00" font-size="6.30" text-anchor="middle" font-weight="normal" fill="#262626" stroke="#262626" stroke-width="0.15">30</text>
<text x="57.90" y="462.00" font-size="6.30" text-anchor="middle" font-weight="normal" fill="#262626" stroke="#262626" stroke-width="0.15">40</text>
<text x="84.20" y="462.00" font-size="6.30" text-anchor="middle" font-weight="normal" fill="#262626" stroke="#262626" stroke-width="0.15">50</text>
<text x="110.50" y="462.00" font-size="6.30" text-anchor="middle" font-weight="normal" fill="#262626" stroke="#262626" stroke-width="0.15">60</text>
<text x="136.80" y="462.00" font-size="6.30" text-anchor="middle" font-weight="normal" fill="#262626" stroke="#262626" stroke-width="0.15">70</text>
<text x="163.10" y="462.00" font-size="6.30" text-anchor="middle" font-weight="normal" fill="#262626" stroke="#262626" stroke-width="0.15">80</text>
<text x="189.40" y="462.00" font-size="6.30" text-anchor="middle" font-weight="normal" fill="#262626" stroke="#262626" stroke-width="0.15">90</text>
<text x="215.70" y="462.00" font-size="6.30" text-anchor="middle" font-weight="normal" fill="#262626" stroke="#262626" stroke-width="0.15">100</text>
<text x="110.50" y="469.50" font-size="6.60" text-anchor="middle" font-weight="normal" fill="#262626" textLength="51.00" lengthAdjust="spacingAndGlyphs" stroke="#262626" stroke-width="0.15">Creativity score</text>
<text x="463.60" y="20.10" font-size="7.00" text-anchor="middle" font-weight="normal" fill="#262626" textLength="21.30" lengthAdjust="spacingAndGlyphs" stroke="#262626" stroke-width="0.15">Vicuna</text>
<path d="M393.00,51.30 C393.00,51.30 391.83,51.33 393.00,51.30 C394.17,51.27 396.88,51.40 400.00,51.10 C403.12,50.80 407.80,50.25 411.70,49.50 C415.60,48.75 419.90,47.57 423.40,46.60 C426.90,45.63 430.18,44.67 432.70,43.70 C435.22,42.73 436.55,41.82 438.50,40.80 C440.45,39.78 442.45,38.35 444.40,37.60 C446.35,36.85 448.27,36.52 450.20,36.30 C452.13,36.08 454.05,36.08 456.00,36.30 C457.95,36.52 459.57,37.05 461.90,37.60 C464.23,38.15 466.98,38.78 470.00,39.60 C473.02,40.42 477.10,41.77 480.00,42.50 C482.90,43.23 484.58,43.33 487.40,44.00 C490.22,44.67 494.05,45.62 496.90,46.50 C499.75,47.38 502.32,48.55 504.50,49.30 C506.68,50.05 508.25,50.67 510.00,51.00 C511.75,51.33 514.17,51.25 515.00,51.30 C515.83,51.35 515.00,51.30 515.00,51.30 Z" fill="#add8e6"/>
<path d="M393.00,51.30 C393.00,51.30 391.83,51.33 393.00,51.30 C394.17,51.27 396.88,51.40 400.00,51.10 C403.12,50.80 407.80,50.25 411.70,49.50 C415.60,48.75 419.90,47.57 423.40,46.60 C426.90,45.63 430.18,44.67 432.70,43.70 C435.22,42.73 436.55,41.82 438.50,40.80 C440.45,39.78 442.45,38.35 444.40,37.60 C446.35,36.85 448.27,36.52 450.20,36.30 C452.13,36.08 454.05,36.08 456.00,36.30 C457.95,36.52 459.57,37.05 461.90,37.60 C464.23,38.15 466.98,38.78 470.00,39.60 C473.02,40.42 477.10,41.77 480.00,42.50 C482.90,43.23 484.58,43.33 487.40,44.00 C490.22,44.67 494.05,45.62 496.90,46.50 C499.75,47.38 502.32,48.55 504.50,49.30 C506.68,50.05 508.25,50.67 510.00,51.00 C511.75,51.33 514.17,51.25 515.00,51.30 C515.83,51.35 515.00,51.30 515.00,51.30" fill="none" stroke="#fff" stroke-width="0.65"/>
<line x1="357.40" y1="51.30" x2="569.00" y2="51.30" stroke="#add8e6" stroke-width="1.10"/>
<line x1="357.40" y1="51.70" x2="357.40" y2="52.90" stroke="#444" stroke-width="0.5"/>
<line x1="383.85" y1="51.70" x2="383.85" y2="52.90" stroke="#444" stroke-width="0.5"/>
<line x1="410.30" y1="51.70" x2="410.30" y2="52.90" stroke="#444" stroke-width="0.5"/>
<line x1="436.75" y1="51.70" x2="436.75" y2="52.90" stroke="#444" stroke-width="0.5"/>
<line x1="463.20" y1="51.70" x2="463.20" y2="52.90" stroke="#444" stroke-width="0.5"/>
<line x1="489.65" y1="51.70" x2="489.65" y2="52.90" stroke="#444" stroke-width="0.5"/>
<line x1="516.10" y1="51.70" x2="516.10" y2="52.90" stroke="#444" stroke-width="0.5"/>
<line x1="542.55" y1="51.70" x2="542.55" y2="52.90" stroke="#444" stroke-width="0.5"/>
<line x1="569.00" y1="51.70" x2="569.00" y2="52.90" stroke="#444" stroke-width="0.5"/>
<line x1="459.40" y1="51.30" x2="459.40" y2="30.80" stroke="#0a0a0a" stroke-width="0.9" stroke-dasharray="2.1,1.0"/>
<text x="357.40" y="45.20" font-size="6.90" text-anchor="start" font-weight="bold" fill="#add8e6" textLength="26.80" lengthAdjust="spacingAndGlyphs" stroke="#add8e6" stroke-width="0.30">Control</text>
<path d="M479.00,71.70 C479.00,71.70 478.65,71.72 479.00,71.70 C479.35,71.68 479.68,72.18 481.10,71.60 C482.52,71.02 485.45,69.25 487.50,68.20 C489.55,67.15 491.25,66.47 493.40,65.30 C495.55,64.13 498.47,62.67 500.40,61.20 C502.33,59.73 503.45,58.63 505.00,56.50 C506.55,54.37 508.33,51.32 509.70,48.40 C511.07,45.48 511.93,41.53 513.20,39.00 C514.47,36.47 516.13,33.58 517.30,33.20 C518.47,32.82 519.23,34.75 520.20,36.70 C521.17,38.65 522.13,41.98 523.10,44.90 C524.07,47.82 524.92,51.48 526.00,54.20 C527.08,56.92 528.23,59.15 529.60,61.20 C530.97,63.25 532.65,64.93 534.20,66.50 C535.75,68.07 537.60,69.73 538.90,70.60 C540.20,71.47 541.48,71.52 542.00,71.70 C542.52,71.88 542.00,71.70 542.00,71.70 Z" fill="#78c2ee"/>
<path d="M479.00,71.70 C479.00,71.70 478.65,71.72 479.00,71.70 C479.35,71.68 479.68,72.18 481.10,71.60 C482.52,71.02 485.45,69.25 487.50,68.20 C489.55,67.15 491.25,66.47 493.40,65.30 C495.55,64.13 498.47,62.67 500.40,61.20 C502.33,59.73 503.45,58.63 505.00,56.50 C506.55,54.37 508.33,51.32 509.70,48.40 C511.07,45.48 511.93,41.53 513.20,39.00 C514.47,36.47 516.13,33.58 517.30,33.20 C518.47,32.82 519.23,34.75 520.20,36.70 C521.17,38.65 522.13,41.98 523.10,44.90 C524.07,47.82 524.92,51.48 526.00,54.20 C527.08,56.92 528.23,59.15 529.60,61.20 C530.97,63.25 532.65,64.93 534.20,66.50 C535.75,68.07 537.60,69.73 538.90,70.60 C540.20,71.47 541.48,71.52 542.00,71.70 C542.52,71.88 542.00,71.70 542.00,71.70" fill="none" stroke="#fff" stroke-width="0.65"/>
<line x1="357.40" y1="71.70" x2="569.00" y2="71.70" stroke="#78c2ee" stroke-width="1.10"/>
<line x1="357.40" y1="72.10" x2="357.40" y2="73.30" stroke="#444" stroke-width="0.5"/>
<line x1="383.85" y1="72.10" x2="383.85" y2="73.30" stroke="#444" stroke-width="0.5"/>
<line x1="410.30" y1="72.10" x2="410.30" y2="73.30" stroke="#444" stroke-width="0.5"/>
<line x1="436.75" y1="72.10" x2="436.75" y2="73.30" stroke="#444" stroke-width="0.5"/>
<line x1="463.20" y1="72.10" x2="463.20" y2="73.30" stroke="#444" stroke-width="0.5"/>
<line x1="489.65" y1="72.10" x2="489.65" y2="73.30" stroke="#444" stroke-width="0.5"/>
<line x1="516.10" y1="72.10" x2="516.10" y2="73.30" stroke="#444" stroke-width="0.5"/>
<line x1="542.55" y1="72.10" x2="542.55" y2="73.30" stroke="#444" stroke-width="0.5"/>
<line x1="569.00" y1="72.10" x2="569.00" y2="73.30" stroke="#444" stroke-width="0.5"/>
<line x1="515.90" y1="71.70" x2="515.90" y2="51.20" stroke="#0a0a0a" stroke-width="0.9" stroke-dasharray="2.1,1.0"/>
<text x="357.40" y="65.50" font-size="6.90" text-anchor="start" font-weight="bold" fill="#78c2ee" textLength="14.20" lengthAdjust="spacingAndGlyphs" stroke="#78c2ee" stroke-width="0.30">DAT</text>
<text x="357.40" y="79.00" font-size="6.30" text-anchor="middle" font-weight="normal" fill="#262626" stroke="#262626" stroke-width="0.15">20</text>
<text x="383.85" y="79.00" font-size="6.30" text-anchor="middle" font-weight="normal" fill="#262626" stroke="#262626" stroke-width="0.15">30</text>
<text x="410.30" y="79.00" font-size="6.30" text-anchor="middle" font-weight="normal" fill="#262626" stroke="#262626" stroke-width="0.15">40</text>
<text x="436.75" y="79.00" font-size="6.30" text-anchor="middle" font-weight="normal" fill="#262626" stroke="#262626" stroke-width="0.15">50</text>
<text x="463.20" y="79.00" font-size="6.30" text-anchor="middle" font-weight="normal" fill="#262626" stroke="#262626" stroke-width="0.15">60</text>
<text x="489.65" y="79.00" font-size="6.30" text-anchor="middle" font-weight="normal" fill="#262626" stroke="#262626" stroke-width="0.15">70</text>
<text x="516.10" y="79.00" font-size="6.30" text-anchor="middle" font-weight="normal" fill="#262626" stroke="#262626" stroke-width="0.15">80</text>
<text x="542.55" y="79.00" font-size="6.30" text-anchor="middle" font-weight="normal" fill="#262626" stroke="#262626" stroke-width="0.15">90</text>
<text x="569.00" y="79.00" font-size="6.30" text-anchor="middle" font-weight="normal" fill="#262626" stroke="#262626" stroke-width="0.15">100</text>
<text x="463.20" y="87.20" font-size="6.60" text-anchor="middle" font-weight="normal" fill="#262626" textLength="51.00" lengthAdjust="spacingAndGlyphs" stroke="#262626" stroke-width="0.15">Creativity score</text>
<text x="465.20" y="109.60" font-size="7.00" text-anchor="middle" font-weight="normal" fill="#262626" textLength="26.40" lengthAdjust="spacingAndGlyphs" stroke="#262626" stroke-width="0.15">Claude3</text>
<path d="M462.00,147.40 C462.00,147.40 461.33,147.47 462.00,147.40 C462.67,147.33 464.88,147.33 466.00,147.00 C467.12,146.67 467.57,146.35 468.70,145.40 C469.83,144.45 471.43,142.90 472.80,141.30 C474.17,139.70 475.53,137.07 476.90,135.80 C478.27,134.53 479.75,134.27 481.00,133.70 C482.25,133.13 483.27,133.30 484.40,132.40 C485.53,131.50 486.65,130.13 487.80,128.30 C488.95,126.47 490.15,123.35 491.30,121.40 C492.45,119.45 493.57,117.62 494.70,116.60 C495.83,115.58 496.97,115.30 498.10,115.30 C499.23,115.30 500.52,116.05 501.50,116.60 C502.48,117.15 503.20,117.68 504.00,118.60 C504.80,119.52 505.35,120.27 506.30,122.10 C507.25,123.93 508.90,127.43 509.70,129.60 C510.50,131.77 510.55,133.28 511.10,135.10 C511.65,136.92 512.18,138.85 513.00,140.50 C513.82,142.15 514.83,143.92 516.00,145.00 C517.17,146.08 518.67,146.60 520.00,147.00 C521.33,147.40 523.33,147.33 524.00,147.40 C524.67,147.47 524.00,147.40 524.00,147.40 Z" fill="#fcdc80"/>
<path d="M462.00,147.40 C462.00,147.40 461.33,147.47 462.00,147.40 C462.67,147.33 464.88,147.33 466.00,147.00 C467.12,146.67 467.57,146.35 468.70,145.40 C469.83,144.45 471.43,142.90 472.80,141.30 C474.17,139.70 475.53,137.07 476.90,135.80 C478.27,134.53 479.75,134.27 481.00,133.70 C482.25,133.13 483.27,133.30 484.40,132.40 C485.53,131.50 486.65,130.13 487.80,128.30 C488.95,126.47 490.15,123.35 491.30,121.40 C492.45,119.45 493.57,117.62 494.70,116.60 C495.83,115.58 496.97,115.30 498.10,115.30 C499.23,115.30 500.52,116.05 501.50,116.60 C502.48,117.15 503.20,117.68 504.00,118.60 C504.80,119.52 505.35,120.27 506.30,122.10 C507.25,123.93 508.90,127.43 509.70,129.60 C510.50,131.77 510.55,133.28 511.10,135.10 C511.65,136.92 512.18,138.85 513.00,140.50 C513.82,142.15 514.83,143.92 516.00,145.00 C517.17,146.08 518.67,146.60 520.00,147.00 C521.33,147.40 523.33,147.33 524.00,147.40 C524.67,147.47 524.00,147.40 524.00,147.40" fill="none" stroke="#fff" stroke-width="0.65"/>
<line x1="357.90" y1="147.40" x2="569.00" y2="147.40" stroke="#fcdc80" stroke-width="1.10"/>
<line x1="357.90" y1="147.80" x2="357.90" y2="149.00" stroke="#444" stroke-width="0.5"/>
<line x1="384.29" y1="147.80" x2="384.29" y2="149.00" stroke="#444" stroke-width="0.5"/>
<line x1="410.67" y1="147.80" x2="410.67" y2="149.00" stroke="#444" stroke-width="0.5"/>
<line x1="437.06" y1="147.80" x2="437.06" y2="149.00" stroke="#444" stroke-width="0.5"/>
<line x1="463.45" y1="147.80" x2="463.45" y2="149.00" stroke="#444" stroke-width="0.5"/>
<line x1="489.84" y1="147.80" x2="489.84" y2="149.00" stroke="#444" stroke-width="0.5"/>
<line x1="516.23" y1="147.80" x2="516.23" y2="149.00" stroke="#444" stroke-width="0.5"/>
<line x1="542.61" y1="147.80" x2="542.61" y2="149.00" stroke="#444" stroke-width="0.5"/>
<line x1="569.00" y1="147.80" x2="569.00" y2="149.00" stroke="#444" stroke-width="0.5"/>
<line x1="496.40" y1="147.40" x2="496.40" y2="126.90" stroke="#0a0a0a" stroke-width="0.9" stroke-dasharray="2.1,1.0"/>
<text x="357.90" y="141.30" font-size="6.90" text-anchor="start" font-weight="bold" fill="#fcdc80" textLength="26.80" lengthAdjust="spacingAndGlyphs" stroke="#fcdc80" stroke-width="0.30">Control</text>
<path d="M487.00,167.30 C487.00,167.30 486.33,167.38 487.00,167.30 C487.67,167.22 489.50,167.15 491.00,166.80 C492.50,166.45 494.58,166.00 496.00,165.20 C497.42,164.40 498.35,163.37 499.50,162.00 C500.65,160.63 501.65,159.20 502.90,157.00 C504.15,154.80 505.63,152.00 507.00,148.80 C508.37,145.60 509.73,140.65 511.10,137.80 C512.47,134.95 514.07,133.10 515.20,131.70 C516.33,130.30 516.87,128.98 517.90,129.40 C518.93,129.82 520.25,132.03 521.40,134.20 C522.55,136.37 523.65,139.90 524.80,142.40 C525.95,144.90 527.03,146.70 528.30,149.20 C529.57,151.70 531.03,155.12 532.40,157.40 C533.77,159.68 535.13,161.48 536.50,162.90 C537.87,164.32 539.35,165.22 540.60,165.90 C541.85,166.58 542.77,166.77 544.00,167.00 C545.23,167.23 547.33,167.25 548.00,167.30 C548.67,167.35 548.00,167.30 548.00,167.30 Z" fill="#f07000"/>
<path d="M487.00,167.30 C487.00,167.30 486.33,167.38 487.00,167.30 C487.67,167.22 489.50,167.15 491.00,166.80 C492.50,166.45 494.58,166.00 496.00,165.20 C497.42,164.40 498.35,163.37 499.50,162.00 C500.65,160.63 501.65,159.20 502.90,157.00 C504.15,154.80 505.63,152.00 507.00,148.80 C508.37,145.60 509.73,140.65 511.10,137.80 C512.47,134.95 514.07,133.10 515.20,131.70 C516.33,130.30 516.87,128.98 517.90,129.40 C518.93,129.82 520.25,132.03 521.40,134.20 C522.55,136.37 523.65,139.90 524.80,142.40 C525.95,144.90 527.03,146.70 528.30,149.20 C529.57,151.70 531.03,155.12 532.40,157.40 C533.77,159.68 535.13,161.48 536.50,162.90 C537.87,164.32 539.35,165.22 540.60,165.90 C541.85,166.58 542.77,166.77 544.00,167.00 C545.23,167.23 547.33,167.25 548.00,167.30 C548.67,167.35 548.00,167.30 548.00,167.30" fill="none" stroke="#fff" stroke-width="0.65"/>
<line x1="357.90" y1="167.30" x2="569.00" y2="167.30" stroke="#f07000" stroke-width="1.10"/>
<line x1="357.90" y1="167.70" x2="357.90" y2="168.90" stroke="#444" stroke-width="0.5"/>
<line x1="384.29" y1="167.70" x2="384.29" y2="168.90" stroke="#444" stroke-width="0.5"/>
<line x1="410.67" y1="167.70" x2="410.67" y2="168.90" stroke="#444" stroke-width="0.5"/>
<line x1="437.06" y1="167.70" x2="437.06" y2="168.90" stroke="#444" stroke-width="0.5"/>
<line x1="463.45" y1="167.70" x2="463.45" y2="168.90" stroke="#444" stroke-width="0.5"/>
<line x1="489.84" y1="167.70" x2="489.84" y2="168.90" stroke="#444" stroke-width="0.5"/>
<line x1="516.23" y1="167.70" x2="516.23" y2="168.90" stroke="#444" stroke-width="0.5"/>
<line x1="542.61" y1="167.70" x2="542.61" y2="168.90" stroke="#444" stroke-width="0.5"/>
<line x1="569.00" y1="167.70" x2="569.00" y2="168.90" stroke="#444" stroke-width="0.5"/>
<line x1="516.60" y1="167.30" x2="516.60" y2="146.80" stroke="#0a0a0a" stroke-width="0.9" stroke-dasharray="2.1,1.0"/>
<text x="357.90" y="161.30" font-size="6.90" text-anchor="start" font-weight="bold" fill="#f07000" textLength="14.20" lengthAdjust="spacingAndGlyphs" stroke="#f07000" stroke-width="0.30">DAT</text>
<text x="357.90" y="174.70" font-size="6.30" text-anchor="middle" font-weight="normal" fill="#262626" stroke="#262626" stroke-width="0.15">20</text>
<text x="384.29" y="174.70" font-size="6.30" text-anchor="middle" font-weight="normal" fill="#262626" stroke="#262626" stroke-width="0.15">30</text>
<text x="410.67" y="174.70" font-size="6.30" text-anchor="middle" font-weight="normal" fill="#262626" stroke="#262626" stroke-width="0.15">40</text>
<text x="437.06" y="174.70" font-size="6.30" text-anchor="middle" font-weight="normal" fill="#262626" stroke="#262626" stroke-width="0.15">50</text>
<text x="463.45" y="174.70" font-size="6.30" text-anchor="middle" font-weight="normal" fill="#262626" stroke="#262626" stroke-width="0.15">60</text>
<text x="489.84" y="174.70" font-size="6.30" text-anchor="middle" font-weight="normal" fill="#262626" stroke="#262626" stroke-width="0.15">70</text>
<text x="516.23" y="174.70" font-size="6.30" text-anchor="middle" font-weight="normal" fill="#262626" stroke="#262626" stroke-width="0.15">80</text>
<text x="542.61" y="174.70" font-size="6.30" text-anchor="middle" font-weight="normal" fill="#262626" stroke="#262626" stroke-width="0.15">90</text>
<text x="569.00" y="174.70" font-size="6.30" text-anchor="middle" font-weight="normal" fill="#262626" stroke="#262626" stroke-width="0.15">100</text>
<text x="463.45" y="182.50" font-size="6.60" text-anchor="middle" font-weight="normal" fill="#262626" textLength="51.00" lengthAdjust="spacingAndGlyphs" stroke="#262626" stroke-width="0.15">Creativity score</text>
<text x="465.00" y="202.80" font-size="7.00" text-anchor="middle" font-weight="normal" fill="#262626" textLength="34.00" lengthAdjust="spacingAndGlyphs" stroke="#262626" stroke-width="0.15">GeminiPro</text>
<path d="M452.00,241.80 C452.00,241.80 450.67,241.90 452.00,241.80 C453.33,241.70 458.00,241.47 460.00,241.20 C462.00,240.93 462.67,240.73 464.00,240.20 C465.33,239.67 466.83,239.03 468.00,238.00 C469.17,236.97 470.00,235.58 471.00,234.00 C472.00,232.42 472.50,231.42 474.00,228.50 C475.50,225.58 478.17,220.17 480.00,216.50 C481.83,212.83 483.43,208.85 485.00,206.50 C486.57,204.15 488.07,202.88 489.40,202.40 C490.73,201.92 491.57,203.17 493.00,203.60 C494.43,204.03 496.33,204.02 498.00,205.00 C499.67,205.98 501.50,207.67 503.00,209.50 C504.50,211.33 505.92,213.92 507.00,216.00 C508.08,218.08 508.67,219.83 509.50,222.00 C510.33,224.17 511.25,227.00 512.00,229.00 C512.75,231.00 513.25,232.42 514.00,234.00 C514.75,235.58 515.50,237.37 516.50,238.50 C517.50,239.63 518.75,240.28 520.00,240.80 C521.25,241.32 522.67,241.43 524.00,241.60 C525.33,241.77 527.33,241.77 528.00,241.80 C528.67,241.83 528.00,241.80 528.00,241.80 Z" fill="#8470ff"/>
<path d="M452.00,241.80 C452.00,241.80 450.67,241.90 452.00,241.80 C453.33,241.70 458.00,241.47 460.00,241.20 C462.00,240.93 462.67,240.73 464.00,240.20 C465.33,239.67 466.83,239.03 468.00,238.00 C469.17,236.97 470.00,235.58 471.00,234.00 C472.00,232.42 472.50,231.42 474.00,228.50 C475.50,225.58 478.17,220.17 480.00,216.50 C481.83,212.83 483.43,208.85 485.00,206.50 C486.57,204.15 488.07,202.88 489.40,202.40 C490.73,201.92 491.57,203.17 493.00,203.60 C494.43,204.03 496.33,204.02 498.00,205.00 C499.67,205.98 501.50,207.67 503.00,209.50 C504.50,211.33 505.92,213.92 507.00,216.00 C508.08,218.08 508.67,219.83 509.50,222.00 C510.33,224.17 511.25,227.00 512.00,229.00 C512.75,231.00 513.25,232.42 514.00,234.00 C514.75,235.58 515.50,237.37 516.50,238.50 C517.50,239.63 518.75,240.28 520.00,240.80 C521.25,241.32 522.67,241.43 524.00,241.60 C525.33,241.77 527.33,241.77 528.00,241.80 C528.67,241.83 528.00,241.80 528.00,241.80" fill="none" stroke="#fff" stroke-width="0.65"/>
<line x1="356.80" y1="241.80" x2="568.50" y2="241.80" stroke="#8470ff" stroke-width="1.10"/>
<line x1="356.80" y1="242.20" x2="356.80" y2="243.40" stroke="#444" stroke-width="0.5"/>
<line x1="383.26" y1="242.20" x2="383.26" y2="243.40" stroke="#444" stroke-width="0.5"/>
<line x1="409.73" y1="242.20" x2="409.73" y2="243.40" stroke="#444" stroke-width="0.5"/>
<line x1="436.19" y1="242.20" x2="436.19" y2="243.40" stroke="#444" stroke-width="0.5"/>
<line x1="462.65" y1="242.20" x2="462.65" y2="243.40" stroke="#444" stroke-width="0.5"/>
<line x1="489.11" y1="242.20" x2="489.11" y2="243.40" stroke="#444" stroke-width="0.5"/>
<line x1="515.58" y1="242.20" x2="515.58" y2="243.40" stroke="#444" stroke-width="0.5"/>
<line x1="542.04" y1="242.20" x2="542.04" y2="243.40" stroke="#444" stroke-width="0.5"/>
<line x1="568.50" y1="242.20" x2="568.50" y2="243.40" stroke="#444" stroke-width="0.5"/>
<line x1="493.40" y1="241.80" x2="493.40" y2="221.30" stroke="#0a0a0a" stroke-width="0.9" stroke-dasharray="2.1,1.0"/>
<text x="356.80" y="235.30" font-size="6.90" text-anchor="start" font-weight="bold" fill="#8470ff" textLength="26.80" lengthAdjust="spacingAndGlyphs" stroke="#8470ff" stroke-width="0.30">Control</text>
<path d="M478.00,262.50 C478.00,262.50 477.17,262.62 478.00,262.50 C478.83,262.38 481.33,262.30 483.00,261.80 C484.67,261.30 486.33,260.72 488.00,259.50 C489.67,258.28 491.50,256.50 493.00,254.50 C494.50,252.50 495.63,249.87 497.00,247.50 C498.37,245.13 499.87,242.55 501.20,240.30 C502.53,238.05 503.53,235.92 505.00,234.00 C506.47,232.08 508.17,229.93 510.00,228.80 C511.83,227.67 514.00,227.25 516.00,227.20 C518.00,227.15 520.17,227.70 522.00,228.50 C523.83,229.30 525.50,230.42 527.00,232.00 C528.50,233.58 529.80,236.30 531.00,238.00 C532.20,239.70 533.03,240.62 534.20,242.20 C535.37,243.78 536.77,245.78 538.00,247.50 C539.23,249.22 540.43,251.00 541.60,252.50 C542.77,254.00 543.78,255.28 545.00,256.50 C546.22,257.72 547.73,258.92 548.90,259.80 C550.07,260.68 550.98,261.35 552.00,261.80 C553.02,262.25 554.50,262.38 555.00,262.50 C555.50,262.62 555.00,262.50 555.00,262.50 Z" fill="#4e40ff"/>
<path d="M478.00,262.50 C478.00,262.50 477.17,262.62 478.00,262.50 C478.83,262.38 481.33,262.30 483.00,261.80 C484.67,261.30 486.33,260.72 488.00,259.50 C489.67,258.28 491.50,256.50 493.00,254.50 C494.50,252.50 495.63,249.87 497.00,247.50 C498.37,245.13 499.87,242.55 501.20,240.30 C502.53,238.05 503.53,235.92 505.00,234.00 C506.47,232.08 508.17,229.93 510.00,228.80 C511.83,227.67 514.00,227.25 516.00,227.20 C518.00,227.15 520.17,227.70 522.00,228.50 C523.83,229.30 525.50,230.42 527.00,232.00 C528.50,233.58 529.80,236.30 531.00,238.00 C532.20,239.70 533.03,240.62 534.20,242.20 C535.37,243.78 536.77,245.78 538.00,247.50 C539.23,249.22 540.43,251.00 541.60,252.50 C542.77,254.00 543.78,255.28 545.00,256.50 C546.22,257.72 547.73,258.92 548.90,259.80 C550.07,260.68 550.98,261.35 552.00,261.80 C553.02,262.25 554.50,262.38 555.00,262.50 C555.50,262.62 555.00,262.50 555.00,262.50" fill="none" stroke="#fff" stroke-width="0.65"/>
<line x1="356.80" y1="262.50" x2="568.50" y2="262.50" stroke="#4e40ff" stroke-width="1.10"/>
<line x1="356.80" y1="262.90" x2="356.80" y2="264.10" stroke="#444" stroke-width="0.5"/>
<line x1="383.26" y1="262.90" x2="383.26" y2="264.10" stroke="#444" stroke-width="0.5"/>
<line x1="409.73" y1="262.90" x2="409.73" y2="264.10" stroke="#444" stroke-width="0.5"/>
<line x1="436.19" y1="262.90" x2="436.19" y2="264.10" stroke="#444" stroke-width="0.5"/>
<line x1="462.65" y1="262.90" x2="462.65" y2="264.10" stroke="#444" stroke-width="0.5"/>
<line x1="489.11" y1="262.90" x2="489.11" y2="264.10" stroke="#444" stroke-width="0.5"/>
<line x1="515.58" y1="262.90" x2="515.58" y2="264.10" stroke="#444" stroke-width="0.5"/>
<line x1="542.04" y1="262.90" x2="542.04" y2="264.10" stroke="#444" stroke-width="0.5"/>
<line x1="568.50" y1="262.90" x2="568.50" y2="264.10" stroke="#444" stroke-width="0.5"/>
<line x1="517.40" y1="262.50" x2="517.40" y2="242.00" stroke="#0a0a0a" stroke-width="0.9" stroke-dasharray="2.1,1.0"/>
<text x="356.80" y="256.30" font-size="6.90" text-anchor="start" font-weight="bold" fill="#4e40ff" textLength="14.20" lengthAdjust="spacingAndGlyphs" stroke="#4e40ff" stroke-width="0.30">DAT</text>
<text x="356.80" y="269.70" font-size="6.30" text-anchor="middle" font-weight="normal" fill="#262626" stroke="#262626" stroke-width="0.15">20</text>
<text x="383.26" y="269.70" font-size="6.30" text-anchor="middle" font-weight="normal" fill="#262626" stroke="#262626" stroke-width="0.15">30</text>
<text x="409.73" y="269.70" font-size="6.30" text-anchor="middle" font-weight="normal" fill="#262626" stroke="#262626" stroke-width="0.15">40</text>
<text x="436.19" y="269.70" font-size="6.30" text-anchor="middle" font-weight="normal" fill="#262626" stroke="#262626" stroke-width="0.15">50</text>
<text x="462.65" y="269.70" font-size="6.30" text-anchor="middle" font-weight="normal" fill="#262626" stroke="#262626" stroke-width="0.15">60</text>
<text x="489.11" y="269.70" font-size="6.30" text-anchor="middle" font-weight="normal" fill="#262626" stroke="#262626" stroke-width="0.15">70</text>
<text x="515.58" y="269.70" font-size="6.30" text-anchor="middle" font-weight="normal" fill="#262626" stroke="#262626" stroke-width="0.15">80</text>
<text x="542.04" y="269.70" font-size="6.30" text-anchor="middle" font-weight="normal" fill="#262626" stroke="#262626" stroke-width="0.15">90</text>
<text x="568.50" y="269.70" font-size="6.30" text-anchor="middle" font-weight="normal" fill="#262626" stroke="#262626" stroke-width="0.15">100</text>
<text x="462.65" y="277.50" font-size="6.60" text-anchor="middle" font-weight="normal" fill="#262626" textLength="51.00" lengthAdjust="spacingAndGlyphs" stroke="#262626" stroke-width="0.15">Creativity score</text>
<text x="469.30" y="299.00" font-size="7.00" text-anchor="middle" font-weight="normal" fill="#262626" textLength="20.60" lengthAdjust="spacingAndGlyphs" stroke="#262626" stroke-width="0.15">GPT-4</text>
<path d="M444.00,334.50 C444.00,334.50 442.57,334.67 444.00,334.50 C445.43,334.33 450.10,333.82 452.60,333.50 C455.10,333.18 456.88,332.97 459.00,332.60 C461.12,332.23 463.20,331.72 465.30,331.30 C467.40,330.88 469.72,330.68 471.60,330.10 C473.48,329.52 474.92,328.92 476.60,327.80 C478.28,326.68 480.00,324.98 481.70,323.40 C483.40,321.82 485.12,319.88 486.80,318.30 C488.48,316.72 490.12,315.10 491.80,313.90 C493.48,312.70 495.53,311.73 496.90,311.10 C498.27,310.47 498.63,309.63 500.00,310.10 C501.37,310.57 503.40,312.12 505.10,313.90 C506.80,315.68 508.52,318.58 510.20,320.80 C511.88,323.02 513.63,325.62 515.20,327.20 C516.77,328.78 518.30,329.30 519.60,330.30 C520.90,331.30 521.77,332.52 523.00,333.20 C524.23,333.88 526.33,334.18 527.00,334.40 C527.67,334.62 527.00,334.48 527.00,334.50 Z" fill="#a2dfa8"/>
<path d="M444.00,334.50 C444.00,334.50 442.57,334.67 444.00,334.50 C445.43,334.33 450.10,333.82 452.60,333.50 C455.10,333.18 456.88,332.97 459.00,332.60 C461.12,332.23 463.20,331.72 465.30,331.30 C467.40,330.88 469.72,330.68 471.60,330.10 C473.48,329.52 474.92,328.92 476.60,327.80 C478.28,326.68 480.00,324.98 481.70,323.40 C483.40,321.82 485.12,319.88 486.80,318.30 C488.48,316.72 490.12,315.10 491.80,313.90 C493.48,312.70 495.53,311.73 496.90,311.10 C498.27,310.47 498.63,309.63 500.00,310.10 C501.37,310.57 503.40,312.12 505.10,313.90 C506.80,315.68 508.52,318.58 510.20,320.80 C511.88,323.02 513.63,325.62 515.20,327.20 C516.77,328.78 518.30,329.30 519.60,330.30 C520.90,331.30 521.77,332.52 523.00,333.20 C524.23,333.88 526.33,334.18 527.00,334.40 C527.67,334.62 527.00,334.48 527.00,334.50" fill="none" stroke="#fff" stroke-width="0.65"/>
<line x1="357.50" y1="334.50" x2="570.60" y2="334.50" stroke="#a2dfa8" stroke-width="1.10"/>
<line x1="357.50" y1="334.90" x2="357.50" y2="336.10" stroke="#444" stroke-width="0.5"/>
<line x1="384.14" y1="334.90" x2="384.14" y2="336.10" stroke="#444" stroke-width="0.5"/>
<line x1="410.77" y1="334.90" x2="410.77" y2="336.10" stroke="#444" stroke-width="0.5"/>
<line x1="437.41" y1="334.90" x2="437.41" y2="336.10" stroke="#444" stroke-width="0.5"/>
<line x1="464.05" y1="334.90" x2="464.05" y2="336.10" stroke="#444" stroke-width="0.5"/>
<line x1="490.69" y1="334.90" x2="490.69" y2="336.10" stroke="#444" stroke-width="0.5"/>
<line x1="517.33" y1="334.90" x2="517.33" y2="336.10" stroke="#444" stroke-width="0.5"/>
<line x1="543.96" y1="334.90" x2="543.96" y2="336.10" stroke="#444" stroke-width="0.5"/>
<line x1="570.60" y1="334.90" x2="570.60" y2="336.10" stroke="#444" stroke-width="0.5"/>
<line x1="497.60" y1="334.50" x2="497.60" y2="314.00" stroke="#0a0a0a" stroke-width="0.9" stroke-dasharray="2.1,1.0"/>
<text x="357.50" y="328.40" font-size="6.90" text-anchor="start" font-weight="bold" fill="#a2dfa8" textLength="26.80" lengthAdjust="spacingAndGlyphs" stroke="#a2dfa8" stroke-width="0.30">Control</text>
<path d="M503.00,355.10 C503.00,355.10 502.55,355.12 503.00,355.10 C503.45,355.08 504.50,355.33 505.70,355.00 C506.90,354.67 508.82,354.47 510.20,353.10 C511.58,351.73 512.75,349.33 514.00,346.80 C515.25,344.27 516.45,341.07 517.70,337.90 C518.95,334.73 520.23,330.85 521.50,327.80 C522.77,324.75 524.13,321.50 525.30,319.60 C526.47,317.70 527.45,316.50 528.50,316.40 C529.55,316.30 530.55,317.32 531.60,319.00 C532.65,320.68 533.73,323.57 534.80,326.50 C535.87,329.43 536.95,333.43 538.00,336.60 C539.05,339.77 539.95,342.97 541.10,345.50 C542.25,348.03 543.53,350.28 544.90,351.80 C546.27,353.32 547.93,354.05 549.30,354.60 C550.67,355.15 552.47,355.02 553.10,355.10 C553.73,355.18 553.10,355.10 553.10,355.10 Z" fill="#62c070"/>
<path d="M503.00,355.10 C503.00,355.10 502.55,355.12 503.00,355.10 C503.45,355.08 504.50,355.33 505.70,355.00 C506.90,354.67 508.82,354.47 510.20,353.10 C511.58,351.73 512.75,349.33 514.00,346.80 C515.25,344.27 516.45,341.07 517.70,337.90 C518.95,334.73 520.23,330.85 521.50,327.80 C522.77,324.75 524.13,321.50 525.30,319.60 C526.47,317.70 527.45,316.50 528.50,316.40 C529.55,316.30 530.55,317.32 531.60,319.00 C532.65,320.68 533.73,323.57 534.80,326.50 C535.87,329.43 536.95,333.43 538.00,336.60 C539.05,339.77 539.95,342.97 541.10,345.50 C542.25,348.03 543.53,350.28 544.90,351.80 C546.27,353.32 547.93,354.05 549.30,354.60 C550.67,355.15 552.47,355.02 553.10,355.10 C553.73,355.18 553.10,355.10 553.10,355.10" fill="none" stroke="#fff" stroke-width="0.65"/>
<line x1="357.50" y1="355.10" x2="570.60" y2="355.10" stroke="#62c070" stroke-width="1.10"/>
<line x1="357.50" y1="355.50" x2="357.50" y2="356.70" stroke="#444" stroke-width="0.5"/>
<line x1="384.14" y1="355.50" x2="384.14" y2="356.70" stroke="#444" stroke-width="0.5"/>
<line x1="410.77" y1="355.50" x2="410.77" y2="356.70" stroke="#444" stroke-width="0.5"/>
<line x1="437.41" y1="355.50" x2="437.41" y2="356.70" stroke="#444" stroke-width="0.5"/>
<line x1="464.05" y1="355.50" x2="464.05" y2="356.70" stroke="#444" stroke-width="0.5"/>
<line x1="490.69" y1="355.50" x2="490.69" y2="356.70" stroke="#444" stroke-width="0.5"/>
<line x1="517.33" y1="355.50" x2="517.33" y2="356.70" stroke="#444" stroke-width="0.5"/>
<line x1="543.96" y1="355.50" x2="543.96" y2="356.70" stroke="#444" stroke-width="0.5"/>
<line x1="570.60" y1="355.50" x2="570.60" y2="356.70" stroke="#444" stroke-width="0.5"/>
<line x1="528.40" y1="355.10" x2="528.40" y2="334.60" stroke="#0a0a0a" stroke-width="0.9" stroke-dasharray="2.1,1.0"/>
<text x="357.50" y="348.80" font-size="6.90" text-anchor="start" font-weight="bold" fill="#62c070" textLength="14.20" lengthAdjust="spacingAndGlyphs" stroke="#62c070" stroke-width="0.30">DAT</text>
<text x="357.50" y="362.90" font-size="6.30" text-anchor="middle" font-weight="normal" fill="#262626" stroke="#262626" stroke-width="0.15">20</text>
<text x="384.14" y="362.90" font-size="6.30" text-anchor="middle" font-weight="normal" fill="#262626" stroke="#262626" stroke-width="0.15">30</text>
<text x="410.77" y="362.90" font-size="6.30" text-anchor="middle" font-weight="normal" fill="#262626" stroke="#262626" stroke-width="0.15">40</text>
<text x="437.41" y="362.90" font-size="6.30" text-anchor="middle" font-weight="normal" fill="#262626" stroke="#262626" stroke-width="0.15">50</text>
<text x="464.05" y="362.90" font-size="6.30" text-anchor="middle" font-weight="normal" fill="#262626" stroke="#262626" stroke-width="0.15">60</text>
<text x="490.69" y="362.90" font-size="6.30" text-anchor="middle" font-weight="normal" fill="#262626" stroke="#262626" stroke-width="0.15">70</text>
<text x="517.33" y="362.90" font-size="6.30" text-anchor="middle" font-weight="normal" fill="#262626" stroke="#262626" stroke-width="0.15">80</text>
<text x="543.96" y="362.90" font-size="6.30" text-anchor="middle" font-weight="normal" fill="#262626" stroke="#262626" stroke-width="0.15">90</text>
<text x="570.60" y="362.90" font-size="6.30" text-anchor="middle" font-weight="normal" fill="#262626" stroke="#262626" stroke-width="0.15">100</text>
<text x="464.05" y="369.60" font-size="6.60" text-anchor="middle" font-weight="normal" fill="#262626" textLength="51.00" lengthAdjust="spacingAndGlyphs" stroke="#262626" stroke-width="0.15">Creativity score</text>
<rect x="252.90" y="67.65" width="32.20" height="4.15" fill="#8ef08e"/>
<line x1="269.00" y1="67.15" x2="269.00" y2="68.15" stroke="#222" stroke-width="0.6"/>
<line x1="267.40" y1="67.15" x2="270.60" y2="67.15" stroke="#222" stroke-width="0.6"/>
<line x1="267.40" y1="68.15" x2="270.60" y2="68.15" stroke="#222" stroke-width="0.6"/>
<line x1="269.00" y1="71.80" x2="269.00" y2="73.30" stroke="#999" stroke-width="0.5"/>
<rect x="293.60" y="53.21" width="32.00" height="18.59" fill="#0a5a0a"/>
<line x1="309.60" y1="52.71" x2="309.60" y2="53.71" stroke="#222" stroke-width="0.6"/>
<line x1="308.00" y1="52.71" x2="311.20" y2="52.71" stroke="#222" stroke-width="0.6"/>
<line x1="308.00" y1="53.71" x2="311.20" y2="53.71" stroke="#222" stroke-width="0.6"/>
<line x1="309.60" y1="71.80" x2="309.60" y2="73.30" stroke="#999" stroke-width="0.5"/>
<line x1="249.50" y1="14.60" x2="249.50" y2="71.80" stroke="#a0a0a0" stroke-width="0.85"/>
<line x1="249.50" y1="71.80" x2="329.80" y2="71.80" stroke="#a0a0a0" stroke-width="0.85"/>
<line x1="248.00" y1="71.80" x2="249.50" y2="71.80" stroke="#999" stroke-width="0.5"/>
<text x="247.10" y="73.70" font-size="5.40" text-anchor="end" font-weight="normal" fill="#262626" textLength="6.00" lengthAdjust="spacingAndGlyphs" stroke="#262626" stroke-width="0.20">50</text>
<line x1="248.00" y1="60.36" x2="249.50" y2="60.36" stroke="#999" stroke-width="0.5"/>
<text x="247.10" y="62.26" font-size="5.40" text-anchor="end" font-weight="normal" fill="#262626" textLength="6.00" lengthAdjust="spacingAndGlyphs" stroke="#262626" stroke-width="0.20">58</text>
<line x1="248.00" y1="48.92" x2="249.50" y2="48.92" stroke="#999" stroke-width="0.5"/>
<text x="247.10" y="50.82" font-size="5.40" text-anchor="end" font-weight="normal" fill="#262626" textLength="6.00" lengthAdjust="spacingAndGlyphs" stroke="#262626" stroke-width="0.20">66</text>
<line x1="248.00" y1="37.48" x2="249.50" y2="37.48" stroke="#999" stroke-width="0.5"/>
<text x="247.10" y="39.38" font-size="5.40" text-anchor="end" font-weight="normal" fill="#262626" textLength="6.00" lengthAdjust="spacingAndGlyphs" stroke="#262626" stroke-width="0.20">74</text>
<line x1="248.00" y1="26.04" x2="249.50" y2="26.04" stroke="#999" stroke-width="0.5"/>
<text x="247.10" y="27.94" font-size="5.40" text-anchor="end" font-weight="normal" fill="#262626" textLength="6.00" lengthAdjust="spacingAndGlyphs" stroke="#262626" stroke-width="0.20">82</text>
<line x1="248.00" y1="14.60" x2="249.50" y2="14.60" stroke="#999" stroke-width="0.5"/>
<text x="247.10" y="16.50" font-size="5.40" text-anchor="end" font-weight="normal" fill="#262626" textLength="6.00" lengthAdjust="spacingAndGlyphs" stroke="#262626" stroke-width="0.20">90</text>
<text transform="translate(237.80,43.20) rotate(-90)" font-size="6.10" text-anchor="middle" fill="#262626" stroke="#262626" stroke-width="0.12" textLength="45.0" lengthAdjust="spacingAndGlyphs">Creativity score</text>
<text x="289.40" y="7.90" font-size="7.20" text-anchor="middle" font-weight="normal" fill="#262626" textLength="67.00" lengthAdjust="spacingAndGlyphs" stroke="#262626" stroke-width="0.15">Mean creativity score</text>
<line x1="278.10" y1="37.30" x2="283.70" y2="37.30" stroke="#2a2a2a" stroke-width="1.30"/><line x1="279.50" y1="34.88" x2="282.30" y2="39.72" stroke="#2a2a2a" stroke-width="1.30"/><line x1="282.30" y1="34.88" x2="279.50" y2="39.72" stroke="#2a2a2a" stroke-width="1.30"/>
<line x1="285.30" y1="37.30" x2="290.90" y2="37.30" stroke="#2a2a2a" stroke-width="1.30"/><line x1="286.70" y1="34.88" x2="289.50" y2="39.72" stroke="#2a2a2a" stroke-width="1.30"/><line x1="289.50" y1="34.88" x2="286.70" y2="39.72" stroke="#2a2a2a" stroke-width="1.30"/>
<line x1="292.50" y1="37.30" x2="298.10" y2="37.30" stroke="#2a2a2a" stroke-width="1.30"/><line x1="293.90" y1="34.88" x2="296.70" y2="39.72" stroke="#2a2a2a" stroke-width="1.30"/><line x1="296.70" y1="34.88" x2="293.90" y2="39.72" stroke="#2a2a2a" stroke-width="1.30"/>
<path d="M271.10,46.50 C271.10,45.20 271.80,44.50 273.30,44.50 L286.35,44.50 C287.55,44.50 288.25,44.00 288.55,43.20 C288.85,44.00 289.55,44.50 290.75,44.50 L303.80,44.50 C305.30,44.50 306.00,45.20 306.00,46.50" fill="none" stroke="#262626" stroke-width="0.8"/>
<text transform="translate(269.00,82.58) rotate(-45)" font-size="6.0" text-anchor="middle" dominant-baseline="central" fill="#262626" stroke="#262626" stroke-width="0.12" textLength="18.0" lengthAdjust="spacingAndGlyphs">Control</text>
<text transform="translate(309.60,79.40) rotate(-45)" font-size="6.0" text-anchor="middle" dominant-baseline="central" fill="#262626" stroke="#262626" stroke-width="0.12" textLength="9.0" lengthAdjust="spacingAndGlyphs">DAT</text>
<rect x="253.00" y="156.79" width="32.50" height="11.91" fill="#b89adb"/>
<line x1="269.25" y1="156.29" x2="269.25" y2="157.29" stroke="#222" stroke-width="0.6"/>
<line x1="267.65" y1="156.29" x2="270.85" y2="156.29" stroke="#222" stroke-width="0.6"/>
<line x1="267.65" y1="157.29" x2="270.85" y2="157.29" stroke="#222" stroke-width="0.6"/>
<line x1="269.25" y1="168.70" x2="269.25" y2="170.20" stroke="#999" stroke-width="0.5"/>
<rect x="293.50" y="141.06" width="32.20" height="27.64" fill="#5c3278"/>
<line x1="309.60" y1="140.56" x2="309.60" y2="141.56" stroke="#222" stroke-width="0.6"/>
<line x1="308.00" y1="140.56" x2="311.20" y2="140.56" stroke="#222" stroke-width="0.6"/>
<line x1="308.00" y1="141.56" x2="311.20" y2="141.56" stroke="#222" stroke-width="0.6"/>
<line x1="309.60" y1="168.70" x2="309.60" y2="170.20" stroke="#999" stroke-width="0.5"/>
<line x1="249.40" y1="112.00" x2="249.40" y2="168.70" stroke="#a0a0a0" stroke-width="0.85"/>
<line x1="249.40" y1="168.70" x2="329.30" y2="168.70" stroke="#a0a0a0" stroke-width="0.85"/>
<line x1="247.90" y1="168.70" x2="249.40" y2="168.70" stroke="#999" stroke-width="0.5"/>
<text x="247.00" y="170.60" font-size="5.40" text-anchor="end" font-weight="normal" fill="#262626" textLength="6.00" lengthAdjust="spacingAndGlyphs" stroke="#262626" stroke-width="0.20">50</text>
<line x1="247.90" y1="157.36" x2="249.40" y2="157.36" stroke="#999" stroke-width="0.5"/>
<text x="247.00" y="159.26" font-size="5.40" text-anchor="end" font-weight="normal" fill="#262626" textLength="6.00" lengthAdjust="spacingAndGlyphs" stroke="#262626" stroke-width="0.20">58</text>
<line x1="247.90" y1="146.02" x2="249.40" y2="146.02" stroke="#999" stroke-width="0.5"/>
<text x="247.00" y="147.92" font-size="5.40" text-anchor="end" font-weight="normal" fill="#262626" textLength="6.00" lengthAdjust="spacingAndGlyphs" stroke="#262626" stroke-width="0.20">66</text>
<line x1="247.90" y1="134.68" x2="249.40" y2="134.68" stroke="#999" stroke-width="0.5"/>
<text x="247.00" y="136.58" font-size="5.40" text-anchor="end" font-weight="normal" fill="#262626" textLength="6.00" lengthAdjust="spacingAndGlyphs" stroke="#262626" stroke-width="0.20">74</text>
<line x1="247.90" y1="123.34" x2="249.40" y2="123.34" stroke="#999" stroke-width="0.5"/>
<text x="247.00" y="125.24" font-size="5.40" text-anchor="end" font-weight="normal" fill="#262626" textLength="6.00" lengthAdjust="spacingAndGlyphs" stroke="#262626" stroke-width="0.20">82</text>
<line x1="247.90" y1="112.00" x2="249.40" y2="112.00" stroke="#999" stroke-width="0.5"/>
<text x="247.00" y="113.90" font-size="5.40" text-anchor="end" font-weight="normal" fill="#262626" textLength="6.00" lengthAdjust="spacingAndGlyphs" stroke="#262626" stroke-width="0.20">90</text>
<text transform="translate(237.70,140.35) rotate(-90)" font-size="6.10" text-anchor="middle" fill="#262626" stroke="#262626" stroke-width="0.12" textLength="45.0" lengthAdjust="spacingAndGlyphs">Creativity score</text>
<text x="287.50" y="101.70" font-size="7.20" text-anchor="middle" font-weight="normal" fill="#262626" textLength="67.00" lengthAdjust="spacingAndGlyphs" stroke="#262626" stroke-width="0.15">Mean creativity score</text>
<line x1="279.00" y1="129.10" x2="284.60" y2="129.10" stroke="#2a2a2a" stroke-width="1.30"/><line x1="280.40" y1="126.68" x2="283.20" y2="131.52" stroke="#2a2a2a" stroke-width="1.30"/><line x1="283.20" y1="126.68" x2="280.40" y2="131.52" stroke="#2a2a2a" stroke-width="1.30"/>
<line x1="286.20" y1="129.10" x2="291.80" y2="129.10" stroke="#2a2a2a" stroke-width="1.30"/><line x1="287.60" y1="126.68" x2="290.40" y2="131.52" stroke="#2a2a2a" stroke-width="1.30"/><line x1="290.40" y1="126.68" x2="287.60" y2="131.52" stroke="#2a2a2a" stroke-width="1.30"/>
<line x1="293.40" y1="129.10" x2="299.00" y2="129.10" stroke="#2a2a2a" stroke-width="1.30"/><line x1="294.80" y1="126.68" x2="297.60" y2="131.52" stroke="#2a2a2a" stroke-width="1.30"/><line x1="297.60" y1="126.68" x2="294.80" y2="131.52" stroke="#2a2a2a" stroke-width="1.30"/>
<path d="M272.20,137.50 C272.20,136.20 272.90,135.50 274.40,135.50 L287.35,135.50 C288.55,135.50 289.25,135.00 289.55,134.20 C289.85,135.00 290.55,135.50 291.75,135.50 L304.70,135.50 C306.20,135.50 306.90,136.20 306.90,137.50" fill="none" stroke="#262626" stroke-width="0.8"/>
<text transform="translate(269.25,179.48) rotate(-45)" font-size="6.0" text-anchor="middle" dominant-baseline="central" fill="#262626" stroke="#262626" stroke-width="0.12" textLength="18.0" lengthAdjust="spacingAndGlyphs">Control</text>
<text transform="translate(309.60,176.30) rotate(-45)" font-size="6.0" text-anchor="middle" dominant-baseline="central" fill="#262626" stroke="#262626" stroke-width="0.12" textLength="9.0" lengthAdjust="spacingAndGlyphs">DAT</text>
<rect x="252.80" y="241.35" width="32.90" height="18.85" fill="#ec8c8c"/>
<line x1="269.25" y1="240.35" x2="269.25" y2="242.35" stroke="#222" stroke-width="0.6"/>
<line x1="267.65" y1="240.35" x2="270.85" y2="240.35" stroke="#222" stroke-width="0.6"/>
<line x1="267.65" y1="242.35" x2="270.85" y2="242.35" stroke="#222" stroke-width="0.6"/>
<line x1="269.25" y1="260.20" x2="269.25" y2="261.70" stroke="#999" stroke-width="0.5"/>
<rect x="294.10" y="228.88" width="32.70" height="31.32" fill="#dc2020"/>
<line x1="310.45" y1="228.38" x2="310.45" y2="229.38" stroke="#222" stroke-width="0.6"/>
<line x1="308.85" y1="228.38" x2="312.05" y2="228.38" stroke="#222" stroke-width="0.6"/>
<line x1="308.85" y1="229.38" x2="312.05" y2="229.38" stroke="#222" stroke-width="0.6"/>
<line x1="310.45" y1="260.20" x2="310.45" y2="261.70" stroke="#999" stroke-width="0.5"/>
<line x1="249.50" y1="202.20" x2="249.50" y2="260.20" stroke="#a0a0a0" stroke-width="0.85"/>
<line x1="249.50" y1="260.20" x2="327.60" y2="260.20" stroke="#a0a0a0" stroke-width="0.85"/>
<line x1="248.00" y1="260.20" x2="249.50" y2="260.20" stroke="#999" stroke-width="0.5"/>
<text x="247.10" y="262.10" font-size="5.40" text-anchor="end" font-weight="normal" fill="#262626" textLength="6.00" lengthAdjust="spacingAndGlyphs" stroke="#262626" stroke-width="0.20">50</text>
<line x1="248.00" y1="248.60" x2="249.50" y2="248.60" stroke="#999" stroke-width="0.5"/>
<text x="247.10" y="250.50" font-size="5.40" text-anchor="end" font-weight="normal" fill="#262626" textLength="6.00" lengthAdjust="spacingAndGlyphs" stroke="#262626" stroke-width="0.20">58</text>
<line x1="248.00" y1="237.00" x2="249.50" y2="237.00" stroke="#999" stroke-width="0.5"/>
<text x="247.10" y="238.90" font-size="5.40" text-anchor="end" font-weight="normal" fill="#262626" textLength="6.00" lengthAdjust="spacingAndGlyphs" stroke="#262626" stroke-width="0.20">66</text>
<line x1="248.00" y1="225.40" x2="249.50" y2="225.40" stroke="#999" stroke-width="0.5"/>
<text x="247.10" y="227.30" font-size="5.40" text-anchor="end" font-weight="normal" fill="#262626" textLength="6.00" lengthAdjust="spacingAndGlyphs" stroke="#262626" stroke-width="0.20">74</text>
<line x1="248.00" y1="213.80" x2="249.50" y2="213.80" stroke="#999" stroke-width="0.5"/>
<text x="247.10" y="215.70" font-size="5.40" text-anchor="end" font-weight="normal" fill="#262626" textLength="6.00" lengthAdjust="spacingAndGlyphs" stroke="#262626" stroke-width="0.20">82</text>
<line x1="248.00" y1="202.20" x2="249.50" y2="202.20" stroke="#999" stroke-width="0.5"/>
<text x="247.10" y="204.10" font-size="5.40" text-anchor="end" font-weight="normal" fill="#262626" textLength="6.00" lengthAdjust="spacingAndGlyphs" stroke="#262626" stroke-width="0.20">90</text>
<text transform="translate(237.80,231.20) rotate(-90)" font-size="6.10" text-anchor="middle" fill="#262626" stroke="#262626" stroke-width="0.12" textLength="45.0" lengthAdjust="spacingAndGlyphs">Creativity score</text>
<text x="288.80" y="199.80" font-size="7.20" text-anchor="middle" font-weight="normal" fill="#262626" textLength="67.00" lengthAdjust="spacingAndGlyphs" stroke="#262626" stroke-width="0.15">Mean creativity score</text>
<line x1="278.80" y1="218.80" x2="284.40" y2="218.80" stroke="#2a2a2a" stroke-width="1.30"/><line x1="280.20" y1="216.38" x2="283.00" y2="221.22" stroke="#2a2a2a" stroke-width="1.30"/><line x1="283.00" y1="216.38" x2="280.20" y2="221.22" stroke="#2a2a2a" stroke-width="1.30"/>
<line x1="286.00" y1="218.80" x2="291.60" y2="218.80" stroke="#2a2a2a" stroke-width="1.30"/><line x1="287.40" y1="216.38" x2="290.20" y2="221.22" stroke="#2a2a2a" stroke-width="1.30"/><line x1="290.20" y1="216.38" x2="287.40" y2="221.22" stroke="#2a2a2a" stroke-width="1.30"/>
<line x1="293.20" y1="218.80" x2="298.80" y2="218.80" stroke="#2a2a2a" stroke-width="1.30"/><line x1="294.60" y1="216.38" x2="297.40" y2="221.22" stroke="#2a2a2a" stroke-width="1.30"/><line x1="297.40" y1="216.38" x2="294.60" y2="221.22" stroke="#2a2a2a" stroke-width="1.30"/>
<path d="M272.30,226.50 C272.30,225.20 273.00,224.50 274.50,224.50 L287.15,224.50 C288.35,224.50 289.05,224.00 289.35,223.20 C289.65,224.00 290.35,224.50 291.55,224.50 L304.20,224.50 C305.70,224.50 306.40,225.20 306.40,226.50" fill="none" stroke="#262626" stroke-width="0.8"/>
<text transform="translate(269.25,270.98) rotate(-45)" font-size="6.0" text-anchor="middle" dominant-baseline="central" fill="#262626" stroke="#262626" stroke-width="0.12" textLength="18.0" lengthAdjust="spacingAndGlyphs">Control</text>
<text transform="translate(310.45,267.80) rotate(-45)" font-size="6.0" text-anchor="middle" dominant-baseline="central" fill="#262626" stroke="#262626" stroke-width="0.12" textLength="9.0" lengthAdjust="spacingAndGlyphs">DAT</text>
<rect x="252.80" y="328.45" width="32.20" height="26.95" fill="#30b8b8"/>
<line x1="268.90" y1="327.95" x2="268.90" y2="328.95" stroke="#222" stroke-width="0.6"/>
<line x1="267.30" y1="327.95" x2="270.50" y2="327.95" stroke="#222" stroke-width="0.6"/>
<line x1="267.30" y1="328.95" x2="270.50" y2="328.95" stroke="#222" stroke-width="0.6"/>
<line x1="268.90" y1="355.40" x2="268.90" y2="356.90" stroke="#999" stroke-width="0.5"/>
<rect x="292.90" y="319.65" width="31.10" height="35.75" fill="#157070"/>
<line x1="308.45" y1="319.15" x2="308.45" y2="320.15" stroke="#222" stroke-width="0.6"/>
<line x1="306.85" y1="319.15" x2="310.05" y2="319.15" stroke="#222" stroke-width="0.6"/>
<line x1="306.85" y1="320.15" x2="310.05" y2="320.15" stroke="#222" stroke-width="0.6"/>
<line x1="308.45" y1="355.40" x2="308.45" y2="356.90" stroke="#999" stroke-width="0.5"/>
<line x1="249.50" y1="300.40" x2="249.50" y2="355.40" stroke="#a0a0a0" stroke-width="0.85"/>
<line x1="249.50" y1="355.40" x2="327.60" y2="355.40" stroke="#a0a0a0" stroke-width="0.85"/>
<line x1="248.00" y1="355.40" x2="249.50" y2="355.40" stroke="#999" stroke-width="0.5"/>
<text x="247.10" y="357.30" font-size="5.40" text-anchor="end" font-weight="normal" fill="#262626" textLength="6.00" lengthAdjust="spacingAndGlyphs" stroke="#262626" stroke-width="0.20">50</text>
<line x1="248.00" y1="344.40" x2="249.50" y2="344.40" stroke="#999" stroke-width="0.5"/>
<text x="247.10" y="346.30" font-size="5.40" text-anchor="end" font-weight="normal" fill="#262626" textLength="6.00" lengthAdjust="spacingAndGlyphs" stroke="#262626" stroke-width="0.20">58</text>
<line x1="248.00" y1="333.40" x2="249.50" y2="333.40" stroke="#999" stroke-width="0.5"/>
<text x="247.10" y="335.30" font-size="5.40" text-anchor="end" font-weight="normal" fill="#262626" textLength="6.00" lengthAdjust="spacingAndGlyphs" stroke="#262626" stroke-width="0.20">66</text>
<line x1="248.00" y1="322.40" x2="249.50" y2="322.40" stroke="#999" stroke-width="0.5"/>
<text x="247.10" y="324.30" font-size="5.40" text-anchor="end" font-weight="normal" fill="#262626" textLength="6.00" lengthAdjust="spacingAndGlyphs" stroke="#262626" stroke-width="0.20">74</text>
<line x1="248.00" y1="311.40" x2="249.50" y2="311.40" stroke="#999" stroke-width="0.5"/>
<text x="247.10" y="313.30" font-size="5.40" text-anchor="end" font-weight="normal" fill="#262626" textLength="6.00" lengthAdjust="spacingAndGlyphs" stroke="#262626" stroke-width="0.20">82</text>
<line x1="248.00" y1="300.40" x2="249.50" y2="300.40" stroke="#999" stroke-width="0.5"/>
<text x="247.10" y="302.30" font-size="5.40" text-anchor="end" font-weight="normal" fill="#262626" textLength="6.00" lengthAdjust="spacingAndGlyphs" stroke="#262626" stroke-width="0.20">90</text>
<text transform="translate(237.80,327.90) rotate(-90)" font-size="6.10" text-anchor="middle" fill="#262626" stroke="#262626" stroke-width="0.12" textLength="45.0" lengthAdjust="spacingAndGlyphs">Creativity score</text>
<text x="286.60" y="297.00" font-size="7.20" text-anchor="middle" font-weight="normal" fill="#262626" textLength="67.00" lengthAdjust="spacingAndGlyphs" stroke="#262626" stroke-width="0.15">Mean creativity score</text>
<line x1="278.60" y1="305.60" x2="284.20" y2="305.60" stroke="#2a2a2a" stroke-width="1.30"/><line x1="280.00" y1="303.18" x2="282.80" y2="308.02" stroke="#2a2a2a" stroke-width="1.30"/><line x1="282.80" y1="303.18" x2="280.00" y2="308.02" stroke="#2a2a2a" stroke-width="1.30"/>
<line x1="285.80" y1="305.60" x2="291.40" y2="305.60" stroke="#2a2a2a" stroke-width="1.30"/><line x1="287.20" y1="303.18" x2="290.00" y2="308.02" stroke="#2a2a2a" stroke-width="1.30"/><line x1="290.00" y1="303.18" x2="287.20" y2="308.02" stroke="#2a2a2a" stroke-width="1.30"/>
<line x1="293.00" y1="305.60" x2="298.60" y2="305.60" stroke="#2a2a2a" stroke-width="1.30"/><line x1="294.40" y1="303.18" x2="297.20" y2="308.02" stroke="#2a2a2a" stroke-width="1.30"/><line x1="297.20" y1="303.18" x2="294.40" y2="308.02" stroke="#2a2a2a" stroke-width="1.30"/>
<path d="M272.30,313.50 C272.30,312.20 273.00,311.50 274.50,311.50 L287.15,311.50 C288.35,311.50 289.05,311.00 289.35,310.20 C289.65,311.00 290.35,311.50 291.55,311.50 L304.20,311.50 C305.70,311.50 306.40,312.20 306.40,313.50" fill="none" stroke="#262626" stroke-width="0.8"/>
<text transform="translate(268.90,366.18) rotate(-45)" font-size="6.0" text-anchor="middle" dominant-baseline="central" fill="#262626" stroke="#262626" stroke-width="0.12" textLength="18.0" lengthAdjust="spacingAndGlyphs">Control</text>
<text transform="translate(308.45,363.00) rotate(-45)" font-size="6.0" text-anchor="middle" dominant-baseline="central" fill="#262626" stroke="#262626" stroke-width="0.12" textLength="9.0" lengthAdjust="spacingAndGlyphs">DAT</text>
<rect x="254.00" y="422.46" width="31.30" height="31.74" fill="#d3d3d3"/>
<line x1="269.65" y1="421.96" x2="269.65" y2="422.96" stroke="#222" stroke-width="0.6"/>
<line x1="268.05" y1="421.96" x2="271.25" y2="421.96" stroke="#222" stroke-width="0.6"/>
<line x1="268.05" y1="422.96" x2="271.25" y2="422.96" stroke="#222" stroke-width="0.6"/>
<line x1="269.65" y1="454.20" x2="269.65" y2="455.70" stroke="#999" stroke-width="0.5"/>
<rect x="293.90" y="414.46" width="31.60" height="39.74" fill="#222222"/>
<line x1="309.70" y1="413.96" x2="309.70" y2="414.96" stroke="#222" stroke-width="0.6"/>
<line x1="308.10" y1="413.96" x2="311.30" y2="413.96" stroke="#222" stroke-width="0.6"/>
<line x1="308.10" y1="414.96" x2="311.30" y2="414.96" stroke="#222" stroke-width="0.6"/>
<line x1="309.70" y1="454.20" x2="309.70" y2="455.70" stroke="#999" stroke-width="0.5"/>
<line x1="250.30" y1="399.00" x2="250.30" y2="454.20" stroke="#a0a0a0" stroke-width="0.85"/>
<line x1="250.30" y1="454.20" x2="327.70" y2="454.20" stroke="#a0a0a0" stroke-width="0.85"/>
<line x1="248.80" y1="454.20" x2="250.30" y2="454.20" stroke="#999" stroke-width="0.5"/>
<text x="247.90" y="456.10" font-size="5.40" text-anchor="end" font-weight="normal" fill="#262626" textLength="6.00" lengthAdjust="spacingAndGlyphs" stroke="#262626" stroke-width="0.20">50</text>
<line x1="248.80" y1="443.16" x2="250.30" y2="443.16" stroke="#999" stroke-width="0.5"/>
<text x="247.90" y="445.06" font-size="5.40" text-anchor="end" font-weight="normal" fill="#262626" textLength="6.00" lengthAdjust="spacingAndGlyphs" stroke="#262626" stroke-width="0.20">58</text>
<line x1="248.80" y1="432.12" x2="250.30" y2="432.12" stroke="#999" stroke-width="0.5"/>
<text x="247.90" y="434.02" font-size="5.40" text-anchor="end" font-weight="normal" fill="#262626" textLength="6.00" lengthAdjust="spacingAndGlyphs" stroke="#262626" stroke-width="0.20">66</text>
<line x1="248.80" y1="421.08" x2="250.30" y2="421.08" stroke="#999" stroke-width="0.5"/>
<text x="247.90" y="422.98" font-size="5.40" text-anchor="end" font-weight="normal" fill="#262626" textLength="6.00" lengthAdjust="spacingAndGlyphs" stroke="#262626" stroke-width="0.20">74</text>
<line x1="248.80" y1="410.04" x2="250.30" y2="410.04" stroke="#999" stroke-width="0.5"/>
<text x="247.90" y="411.94" font-size="5.40" text-anchor="end" font-weight="normal" fill="#262626" textLength="6.00" lengthAdjust="spacingAndGlyphs" stroke="#262626" stroke-width="0.20">82</text>
<line x1="248.80" y1="399.00" x2="250.30" y2="399.00" stroke="#999" stroke-width="0.5"/>
<text x="247.90" y="400.90" font-size="5.40" text-anchor="end" font-weight="normal" fill="#262626" textLength="6.00" lengthAdjust="spacingAndGlyphs" stroke="#262626" stroke-width="0.20">90</text>
<text transform="translate(238.60,426.60) rotate(-90)" font-size="6.10" text-anchor="middle" fill="#262626" stroke="#262626" stroke-width="0.12" textLength="45.0" lengthAdjust="spacingAndGlyphs">Creativity score</text>
<text x="288.50" y="389.40" font-size="7.20" text-anchor="middle" font-weight="normal" fill="#262626" textLength="67.00" lengthAdjust="spacingAndGlyphs" stroke="#262626" stroke-width="0.15">Mean creativity score</text>
<line x1="280.30" y1="399.60" x2="285.90" y2="399.60" stroke="#2a2a2a" stroke-width="1.30"/><line x1="281.70" y1="397.18" x2="284.50" y2="402.02" stroke="#2a2a2a" stroke-width="1.30"/><line x1="284.50" y1="397.18" x2="281.70" y2="402.02" stroke="#2a2a2a" stroke-width="1.30"/>
<line x1="287.50" y1="399.60" x2="293.10" y2="399.60" stroke="#2a2a2a" stroke-width="1.30"/><line x1="288.90" y1="397.18" x2="291.70" y2="402.02" stroke="#2a2a2a" stroke-width="1.30"/><line x1="291.70" y1="397.18" x2="288.90" y2="402.02" stroke="#2a2a2a" stroke-width="1.30"/>
<line x1="294.70" y1="399.60" x2="300.30" y2="399.60" stroke="#2a2a2a" stroke-width="1.30"/><line x1="296.10" y1="397.18" x2="298.90" y2="402.02" stroke="#2a2a2a" stroke-width="1.30"/><line x1="298.90" y1="397.18" x2="296.10" y2="402.02" stroke="#2a2a2a" stroke-width="1.30"/>
<path d="M273.10,407.50 C273.10,406.20 273.80,405.50 275.30,405.50 L288.20,405.50 C289.40,405.50 290.10,405.00 290.40,404.20 C290.70,405.00 291.40,405.50 292.60,405.50 L305.50,405.50 C307.00,405.50 307.70,406.20 307.70,407.50" fill="none" stroke="#262626" stroke-width="0.8"/>
<text transform="translate(269.65,464.98) rotate(-45)" font-size="6.0" text-anchor="middle" dominant-baseline="central" fill="#262626" stroke="#262626" stroke-width="0.12" textLength="18.0" lengthAdjust="spacingAndGlyphs">Control</text>
<text transform="translate(309.70,461.80) rotate(-45)" font-size="6.0" text-anchor="middle" dominant-baseline="central" fill="#262626" stroke="#262626" stroke-width="0.12" textLength="9.0" lengthAdjust="spacingAndGlyphs">DAT</text>
<rect x="606.70" y="59.14" width="31.90" height="13.16" fill="#add8e6"/>
<line x1="622.65" y1="58.64" x2="622.65" y2="59.64" stroke="#222" stroke-width="0.6"/>
<line x1="621.05" y1="58.64" x2="624.25" y2="58.64" stroke="#222" stroke-width="0.6"/>
<line x1="621.05" y1="59.64" x2="624.25" y2="59.64" stroke="#222" stroke-width="0.6"/>
<line x1="622.65" y1="72.30" x2="622.65" y2="73.80" stroke="#999" stroke-width="0.5"/>
<rect x="646.40" y="31.14" width="32.00" height="41.16" fill="#88c0e8"/>
<line x1="662.40" y1="30.64" x2="662.40" y2="31.64" stroke="#222" stroke-width="0.6"/>
<line x1="660.80" y1="30.64" x2="664.00" y2="30.64" stroke="#222" stroke-width="0.6"/>
<line x1="660.80" y1="31.64" x2="664.00" y2="31.64" stroke="#222" stroke-width="0.6"/>
<line x1="662.40" y1="72.30" x2="662.40" y2="73.80" stroke="#999" stroke-width="0.5"/>
<line x1="602.50" y1="16.30" x2="602.50" y2="72.30" stroke="#a0a0a0" stroke-width="0.85"/>
<line x1="602.50" y1="72.30" x2="682.00" y2="72.30" stroke="#a0a0a0" stroke-width="0.85"/>
<line x1="601.00" y1="72.30" x2="602.50" y2="72.30" stroke="#999" stroke-width="0.5"/>
<text x="600.10" y="74.20" font-size="5.40" text-anchor="end" font-weight="normal" fill="#262626" textLength="6.00" lengthAdjust="spacingAndGlyphs" stroke="#262626" stroke-width="0.20">50</text>
<line x1="601.00" y1="61.10" x2="602.50" y2="61.10" stroke="#999" stroke-width="0.5"/>
<text x="600.10" y="63.00" font-size="5.40" text-anchor="end" font-weight="normal" fill="#262626" textLength="6.00" lengthAdjust="spacingAndGlyphs" stroke="#262626" stroke-width="0.20">58</text>
<line x1="601.00" y1="49.90" x2="602.50" y2="49.90" stroke="#999" stroke-width="0.5"/>
<text x="600.10" y="51.80" font-size="5.40" text-anchor="end" font-weight="normal" fill="#262626" textLength="6.00" lengthAdjust="spacingAndGlyphs" stroke="#262626" stroke-width="0.20">66</text>
<line x1="601.00" y1="38.70" x2="602.50" y2="38.70" stroke="#999" stroke-width="0.5"/>
<text x="600.10" y="40.60" font-size="5.40" text-anchor="end" font-weight="normal" fill="#262626" textLength="6.00" lengthAdjust="spacingAndGlyphs" stroke="#262626" stroke-width="0.20">74</text>
<line x1="601.00" y1="27.50" x2="602.50" y2="27.50" stroke="#999" stroke-width="0.5"/>
<text x="600.10" y="29.40" font-size="5.40" text-anchor="end" font-weight="normal" fill="#262626" textLength="6.00" lengthAdjust="spacingAndGlyphs" stroke="#262626" stroke-width="0.20">82</text>
<line x1="601.00" y1="16.30" x2="602.50" y2="16.30" stroke="#999" stroke-width="0.5"/>
<text x="600.10" y="18.20" font-size="5.40" text-anchor="end" font-weight="normal" fill="#262626" textLength="6.00" lengthAdjust="spacingAndGlyphs" stroke="#262626" stroke-width="0.20">90</text>
<text transform="translate(591.70,44.30) rotate(-90)" font-size="6.60" text-anchor="middle" fill="#262626" stroke="#262626" stroke-width="0.12" textLength="45.0" lengthAdjust="spacingAndGlyphs">Creativity score</text>
<text x="641.50" y="10.20" font-size="7.20" text-anchor="middle" font-weight="normal" fill="#262626" textLength="67.00" lengthAdjust="spacingAndGlyphs" stroke="#262626" stroke-width="0.15">Mean creativity score</text>
<line x1="633.60" y1="21.40" x2="639.20" y2="21.40" stroke="#2a2a2a" stroke-width="1.30"/><line x1="635.00" y1="18.98" x2="637.80" y2="23.82" stroke="#2a2a2a" stroke-width="1.30"/><line x1="637.80" y1="18.98" x2="635.00" y2="23.82" stroke="#2a2a2a" stroke-width="1.30"/>
<line x1="640.80" y1="21.40" x2="646.40" y2="21.40" stroke="#2a2a2a" stroke-width="1.30"/><line x1="642.20" y1="18.98" x2="645.00" y2="23.82" stroke="#2a2a2a" stroke-width="1.30"/><line x1="645.00" y1="18.98" x2="642.20" y2="23.82" stroke="#2a2a2a" stroke-width="1.30"/>
<line x1="648.00" y1="21.40" x2="653.60" y2="21.40" stroke="#2a2a2a" stroke-width="1.30"/><line x1="649.40" y1="18.98" x2="652.20" y2="23.82" stroke="#2a2a2a" stroke-width="1.30"/><line x1="652.20" y1="18.98" x2="649.40" y2="23.82" stroke="#2a2a2a" stroke-width="1.30"/>
<path d="M626.40,29.50 C626.40,28.20 627.10,27.50 628.60,27.50 L641.50,27.50 C642.70,27.50 643.40,27.00 643.70,26.20 C644.00,27.00 644.70,27.50 645.90,27.50 L658.80,27.50 C660.30,27.50 661.00,28.20 661.00,29.50" fill="none" stroke="#262626" stroke-width="0.8"/>
<text transform="translate(622.65,83.08) rotate(-45)" font-size="6.0" text-anchor="middle" dominant-baseline="central" fill="#262626" stroke="#262626" stroke-width="0.12" textLength="18.0" lengthAdjust="spacingAndGlyphs">Control</text>
<text transform="translate(662.40,79.90) rotate(-45)" font-size="6.0" text-anchor="middle" dominant-baseline="central" fill="#262626" stroke="#262626" stroke-width="0.12" textLength="9.0" lengthAdjust="spacingAndGlyphs">DAT</text>
<rect x="603.00" y="136.81" width="33.10" height="32.28" fill="#ecd490"/>
<line x1="619.55" y1="136.31" x2="619.55" y2="137.31" stroke="#222" stroke-width="0.6"/>
<line x1="617.95" y1="136.31" x2="621.15" y2="136.31" stroke="#222" stroke-width="0.6"/>
<line x1="617.95" y1="137.31" x2="621.15" y2="137.31" stroke="#222" stroke-width="0.6"/>
<line x1="619.55" y1="169.10" x2="619.55" y2="170.60" stroke="#999" stroke-width="0.5"/>
<rect x="645.00" y="125.22" width="32.60" height="43.88" fill="#d26c1e"/>
<line x1="661.30" y1="124.72" x2="661.30" y2="125.72" stroke="#222" stroke-width="0.6"/>
<line x1="659.70" y1="124.72" x2="662.90" y2="124.72" stroke="#222" stroke-width="0.6"/>
<line x1="659.70" y1="125.72" x2="662.90" y2="125.72" stroke="#222" stroke-width="0.6"/>
<line x1="661.30" y1="169.10" x2="661.30" y2="170.60" stroke="#999" stroke-width="0.5"/>
<line x1="599.30" y1="110.40" x2="599.30" y2="169.10" stroke="#a0a0a0" stroke-width="0.85"/>
<line x1="599.30" y1="169.10" x2="680.40" y2="169.10" stroke="#a0a0a0" stroke-width="0.85"/>
<line x1="597.80" y1="169.10" x2="599.30" y2="169.10" stroke="#999" stroke-width="0.5"/>
<text x="596.90" y="171.00" font-size="5.40" text-anchor="end" font-weight="normal" fill="#262626" textLength="6.00" lengthAdjust="spacingAndGlyphs" stroke="#262626" stroke-width="0.20">50</text>
<line x1="597.80" y1="157.36" x2="599.30" y2="157.36" stroke="#999" stroke-width="0.5"/>
<text x="596.90" y="159.26" font-size="5.40" text-anchor="end" font-weight="normal" fill="#262626" textLength="6.00" lengthAdjust="spacingAndGlyphs" stroke="#262626" stroke-width="0.20">58</text>
<line x1="597.80" y1="145.62" x2="599.30" y2="145.62" stroke="#999" stroke-width="0.5"/>
<text x="596.90" y="147.52" font-size="5.40" text-anchor="end" font-weight="normal" fill="#262626" textLength="6.00" lengthAdjust="spacingAndGlyphs" stroke="#262626" stroke-width="0.20">66</text>
<line x1="597.80" y1="133.88" x2="599.30" y2="133.88" stroke="#999" stroke-width="0.5"/>
<text x="596.90" y="135.78" font-size="5.40" text-anchor="end" font-weight="normal" fill="#262626" textLength="6.00" lengthAdjust="spacingAndGlyphs" stroke="#262626" stroke-width="0.20">74</text>
<line x1="597.80" y1="122.14" x2="599.30" y2="122.14" stroke="#999" stroke-width="0.5"/>
<text x="596.90" y="124.04" font-size="5.40" text-anchor="end" font-weight="normal" fill="#262626" textLength="6.00" lengthAdjust="spacingAndGlyphs" stroke="#262626" stroke-width="0.20">82</text>
<line x1="597.80" y1="110.40" x2="599.30" y2="110.40" stroke="#999" stroke-width="0.5"/>
<text x="596.90" y="112.30" font-size="5.40" text-anchor="end" font-weight="normal" fill="#262626" textLength="6.00" lengthAdjust="spacingAndGlyphs" stroke="#262626" stroke-width="0.20">90</text>
<text transform="translate(587.60,139.75) rotate(-90)" font-size="6.10" text-anchor="middle" fill="#262626" stroke="#262626" stroke-width="0.12" textLength="45.0" lengthAdjust="spacingAndGlyphs">Creativity score</text>
<text x="640.30" y="102.20" font-size="7.20" text-anchor="middle" font-weight="normal" fill="#262626" textLength="67.00" lengthAdjust="spacingAndGlyphs" stroke="#262626" stroke-width="0.15">Mean creativity score</text>
<line x1="632.30" y1="114.60" x2="637.90" y2="114.60" stroke="#2a2a2a" stroke-width="1.30"/><line x1="633.70" y1="112.18" x2="636.50" y2="117.02" stroke="#2a2a2a" stroke-width="1.30"/><line x1="636.50" y1="112.18" x2="633.70" y2="117.02" stroke="#2a2a2a" stroke-width="1.30"/>
<line x1="639.50" y1="114.60" x2="645.10" y2="114.60" stroke="#2a2a2a" stroke-width="1.30"/><line x1="640.90" y1="112.18" x2="643.70" y2="117.02" stroke="#2a2a2a" stroke-width="1.30"/><line x1="643.70" y1="112.18" x2="640.90" y2="117.02" stroke="#2a2a2a" stroke-width="1.30"/>
<line x1="646.70" y1="114.60" x2="652.30" y2="114.60" stroke="#2a2a2a" stroke-width="1.30"/><line x1="648.10" y1="112.18" x2="650.90" y2="117.02" stroke="#2a2a2a" stroke-width="1.30"/><line x1="650.90" y1="112.18" x2="648.10" y2="117.02" stroke="#2a2a2a" stroke-width="1.30"/>
<path d="M625.10,122.50 C625.10,121.20 625.80,120.50 627.30,120.50 L640.20,120.50 C641.40,120.50 642.10,120.00 642.40,119.20 C642.70,120.00 643.40,120.50 644.60,120.50 L657.50,120.50 C659.00,120.50 659.70,121.20 659.70,122.50" fill="none" stroke="#262626" stroke-width="0.8"/>
<text transform="translate(619.55,179.88) rotate(-45)" font-size="6.0" text-anchor="middle" dominant-baseline="central" fill="#262626" stroke="#262626" stroke-width="0.12" textLength="18.0" lengthAdjust="spacingAndGlyphs">Control</text>
<text transform="translate(661.30,176.70) rotate(-45)" font-size="6.0" text-anchor="middle" dominant-baseline="central" fill="#262626" stroke="#262626" stroke-width="0.12" textLength="9.0" lengthAdjust="spacingAndGlyphs">DAT</text>
<rect x="608.20" y="233.17" width="31.10" height="29.13" fill="#8b7be8"/>
<line x1="623.75" y1="232.67" x2="623.75" y2="233.67" stroke="#222" stroke-width="0.6"/>
<line x1="622.15" y1="232.67" x2="625.35" y2="232.67" stroke="#222" stroke-width="0.6"/>
<line x1="622.15" y1="233.67" x2="625.35" y2="233.67" stroke="#222" stroke-width="0.6"/>
<line x1="623.75" y1="262.30" x2="623.75" y2="263.80" stroke="#999" stroke-width="0.5"/>
<rect x="647.70" y="221.14" width="30.60" height="41.16" fill="#6a5ee0"/>
<line x1="663.00" y1="220.64" x2="663.00" y2="221.64" stroke="#222" stroke-width="0.6"/>
<line x1="661.40" y1="220.64" x2="664.60" y2="220.64" stroke="#222" stroke-width="0.6"/>
<line x1="661.40" y1="221.64" x2="664.60" y2="221.64" stroke="#222" stroke-width="0.6"/>
<line x1="663.00" y1="262.30" x2="663.00" y2="263.80" stroke="#999" stroke-width="0.5"/>
<line x1="604.50" y1="207.60" x2="604.50" y2="262.30" stroke="#a0a0a0" stroke-width="0.85"/>
<line x1="604.50" y1="262.30" x2="681.40" y2="262.30" stroke="#a0a0a0" stroke-width="0.85"/>
<line x1="603.00" y1="262.30" x2="604.50" y2="262.30" stroke="#999" stroke-width="0.5"/>
<text x="602.10" y="264.20" font-size="5.40" text-anchor="end" font-weight="normal" fill="#262626" textLength="6.00" lengthAdjust="spacingAndGlyphs" stroke="#262626" stroke-width="0.20">50</text>
<line x1="603.00" y1="251.36" x2="604.50" y2="251.36" stroke="#999" stroke-width="0.5"/>
<text x="602.10" y="253.26" font-size="5.40" text-anchor="end" font-weight="normal" fill="#262626" textLength="6.00" lengthAdjust="spacingAndGlyphs" stroke="#262626" stroke-width="0.20">58</text>
<line x1="603.00" y1="240.42" x2="604.50" y2="240.42" stroke="#999" stroke-width="0.5"/>
<text x="602.10" y="242.32" font-size="5.40" text-anchor="end" font-weight="normal" fill="#262626" textLength="6.00" lengthAdjust="spacingAndGlyphs" stroke="#262626" stroke-width="0.20">66</text>
<line x1="603.00" y1="229.48" x2="604.50" y2="229.48" stroke="#999" stroke-width="0.5"/>
<text x="602.10" y="231.38" font-size="5.40" text-anchor="end" font-weight="normal" fill="#262626" textLength="6.00" lengthAdjust="spacingAndGlyphs" stroke="#262626" stroke-width="0.20">74</text>
<line x1="603.00" y1="218.54" x2="604.50" y2="218.54" stroke="#999" stroke-width="0.5"/>
<text x="602.10" y="220.44" font-size="5.40" text-anchor="end" font-weight="normal" fill="#262626" textLength="6.00" lengthAdjust="spacingAndGlyphs" stroke="#262626" stroke-width="0.20">82</text>
<line x1="603.00" y1="207.60" x2="604.50" y2="207.60" stroke="#999" stroke-width="0.5"/>
<text x="602.10" y="209.50" font-size="5.40" text-anchor="end" font-weight="normal" fill="#262626" textLength="6.00" lengthAdjust="spacingAndGlyphs" stroke="#262626" stroke-width="0.20">90</text>
<text transform="translate(592.80,234.95) rotate(-90)" font-size="6.10" text-anchor="middle" fill="#262626" stroke="#262626" stroke-width="0.12" textLength="45.0" lengthAdjust="spacingAndGlyphs">Creativity score</text>
<text x="641.40" y="197.70" font-size="7.20" text-anchor="middle" font-weight="normal" fill="#262626" textLength="67.00" lengthAdjust="spacingAndGlyphs" stroke="#262626" stroke-width="0.15">Mean creativity score</text>
<line x1="634.60" y1="206.80" x2="640.20" y2="206.80" stroke="#2a2a2a" stroke-width="1.30"/><line x1="636.00" y1="204.38" x2="638.80" y2="209.22" stroke="#2a2a2a" stroke-width="1.30"/><line x1="638.80" y1="204.38" x2="636.00" y2="209.22" stroke="#2a2a2a" stroke-width="1.30"/>
<line x1="641.80" y1="206.80" x2="647.40" y2="206.80" stroke="#2a2a2a" stroke-width="1.30"/><line x1="643.20" y1="204.38" x2="646.00" y2="209.22" stroke="#2a2a2a" stroke-width="1.30"/><line x1="646.00" y1="204.38" x2="643.20" y2="209.22" stroke="#2a2a2a" stroke-width="1.30"/>
<line x1="649.00" y1="206.80" x2="654.60" y2="206.80" stroke="#2a2a2a" stroke-width="1.30"/><line x1="650.40" y1="204.38" x2="653.20" y2="209.22" stroke="#2a2a2a" stroke-width="1.30"/><line x1="653.20" y1="204.38" x2="650.40" y2="209.22" stroke="#2a2a2a" stroke-width="1.30"/>
<path d="M627.30,215.50 C627.30,214.20 628.00,213.50 629.50,213.50 L642.35,213.50 C643.55,213.50 644.25,213.00 644.55,212.20 C644.85,213.00 645.55,213.50 646.75,213.50 L659.60,213.50 C661.10,213.50 661.80,214.20 661.80,215.50" fill="none" stroke="#262626" stroke-width="0.8"/>
<text transform="translate(623.75,273.08) rotate(-45)" font-size="6.0" text-anchor="middle" dominant-baseline="central" fill="#262626" stroke="#262626" stroke-width="0.12" textLength="18.0" lengthAdjust="spacingAndGlyphs">Control</text>
<text transform="translate(663.00,269.90) rotate(-45)" font-size="6.0" text-anchor="middle" dominant-baseline="central" fill="#262626" stroke="#262626" stroke-width="0.12" textLength="9.0" lengthAdjust="spacingAndGlyphs">DAT</text>
<rect x="609.80" y="328.40" width="31.20" height="29.00" fill="#a8dcb0"/>
<line x1="625.40" y1="327.90" x2="625.40" y2="328.90" stroke="#222" stroke-width="0.6"/>
<line x1="623.80" y1="327.90" x2="627.00" y2="327.90" stroke="#222" stroke-width="0.6"/>
<line x1="623.80" y1="328.90" x2="627.00" y2="328.90" stroke="#222" stroke-width="0.6"/>
<line x1="625.40" y1="357.40" x2="625.40" y2="358.90" stroke="#999" stroke-width="0.5"/>
<rect x="648.80" y="311.60" width="30.50" height="45.80" fill="#70bc80"/>
<line x1="664.05" y1="311.10" x2="664.05" y2="312.10" stroke="#222" stroke-width="0.6"/>
<line x1="662.45" y1="311.10" x2="665.65" y2="311.10" stroke="#222" stroke-width="0.6"/>
<line x1="662.45" y1="312.10" x2="665.65" y2="312.10" stroke="#222" stroke-width="0.6"/>
<line x1="664.05" y1="357.40" x2="664.05" y2="358.90" stroke="#999" stroke-width="0.5"/>
<line x1="606.30" y1="303.20" x2="606.30" y2="357.40" stroke="#a0a0a0" stroke-width="0.85"/>
<line x1="606.30" y1="357.40" x2="683.50" y2="357.40" stroke="#a0a0a0" stroke-width="0.85"/>
<line x1="604.80" y1="357.40" x2="606.30" y2="357.40" stroke="#999" stroke-width="0.5"/>
<text x="603.90" y="359.30" font-size="5.40" text-anchor="end" font-weight="normal" fill="#262626" textLength="6.00" lengthAdjust="spacingAndGlyphs" stroke="#262626" stroke-width="0.20">50</text>
<line x1="604.80" y1="346.56" x2="606.30" y2="346.56" stroke="#999" stroke-width="0.5"/>
<text x="603.90" y="348.46" font-size="5.40" text-anchor="end" font-weight="normal" fill="#262626" textLength="6.00" lengthAdjust="spacingAndGlyphs" stroke="#262626" stroke-width="0.20">58</text>
<line x1="604.80" y1="335.72" x2="606.30" y2="335.72" stroke="#999" stroke-width="0.5"/>
<text x="603.90" y="337.62" font-size="5.40" text-anchor="end" font-weight="normal" fill="#262626" textLength="6.00" lengthAdjust="spacingAndGlyphs" stroke="#262626" stroke-width="0.20">66</text>
<line x1="604.80" y1="324.88" x2="606.30" y2="324.88" stroke="#999" stroke-width="0.5"/>
<text x="603.90" y="326.78" font-size="5.40" text-anchor="end" font-weight="normal" fill="#262626" textLength="6.00" lengthAdjust="spacingAndGlyphs" stroke="#262626" stroke-width="0.20">74</text>
<line x1="604.80" y1="314.04" x2="606.30" y2="314.04" stroke="#999" stroke-width="0.5"/>
<text x="603.90" y="315.94" font-size="5.40" text-anchor="end" font-weight="normal" fill="#262626" textLength="6.00" lengthAdjust="spacingAndGlyphs" stroke="#262626" stroke-width="0.20">82</text>
<line x1="604.80" y1="303.20" x2="606.30" y2="303.20" stroke="#999" stroke-width="0.5"/>
<text x="603.90" y="305.10" font-size="5.40" text-anchor="end" font-weight="normal" fill="#262626" textLength="6.00" lengthAdjust="spacingAndGlyphs" stroke="#262626" stroke-width="0.20">90</text>
<text transform="translate(594.60,330.30) rotate(-90)" font-size="6.10" text-anchor="middle" fill="#262626" stroke="#262626" stroke-width="0.12" textLength="45.0" lengthAdjust="spacingAndGlyphs">Creativity score</text>
<text x="640.50" y="291.70" font-size="7.20" text-anchor="middle" font-weight="normal" fill="#262626" textLength="67.00" lengthAdjust="spacingAndGlyphs" stroke="#262626" stroke-width="0.15">Mean creativity score</text>
<line x1="633.40" y1="300.30" x2="639.00" y2="300.30" stroke="#2a2a2a" stroke-width="1.30"/><line x1="634.80" y1="297.88" x2="637.60" y2="302.72" stroke="#2a2a2a" stroke-width="1.30"/><line x1="637.60" y1="297.88" x2="634.80" y2="302.72" stroke="#2a2a2a" stroke-width="1.30"/>
<line x1="640.60" y1="300.30" x2="646.20" y2="300.30" stroke="#2a2a2a" stroke-width="1.30"/><line x1="642.00" y1="297.88" x2="644.80" y2="302.72" stroke="#2a2a2a" stroke-width="1.30"/><line x1="644.80" y1="297.88" x2="642.00" y2="302.72" stroke="#2a2a2a" stroke-width="1.30"/>
<line x1="647.80" y1="300.30" x2="653.40" y2="300.30" stroke="#2a2a2a" stroke-width="1.30"/><line x1="649.20" y1="297.88" x2="652.00" y2="302.72" stroke="#2a2a2a" stroke-width="1.30"/><line x1="652.00" y1="297.88" x2="649.20" y2="302.72" stroke="#2a2a2a" stroke-width="1.30"/>
<path d="M625.90,308.50 C625.90,307.20 626.60,306.50 628.10,306.50 L641.25,306.50 C642.45,306.50 643.15,306.00 643.45,305.20 C643.75,306.00 644.45,306.50 645.65,306.50 L658.80,306.50 C660.30,306.50 661.00,307.20 661.00,308.50" fill="none" stroke="#262626" stroke-width="0.8"/>
<text transform="translate(625.40,368.18) rotate(-45)" font-size="6.0" text-anchor="middle" dominant-baseline="central" fill="#262626" stroke="#262626" stroke-width="0.12" textLength="18.0" lengthAdjust="spacingAndGlyphs">Control</text>
<text transform="translate(664.05,365.00) rotate(-45)" font-size="6.0" text-anchor="middle" dominant-baseline="central" fill="#262626" stroke="#262626" stroke-width="0.12" textLength="9.0" lengthAdjust="spacingAndGlyphs">DAT</text>
</svg>
</body></html>
